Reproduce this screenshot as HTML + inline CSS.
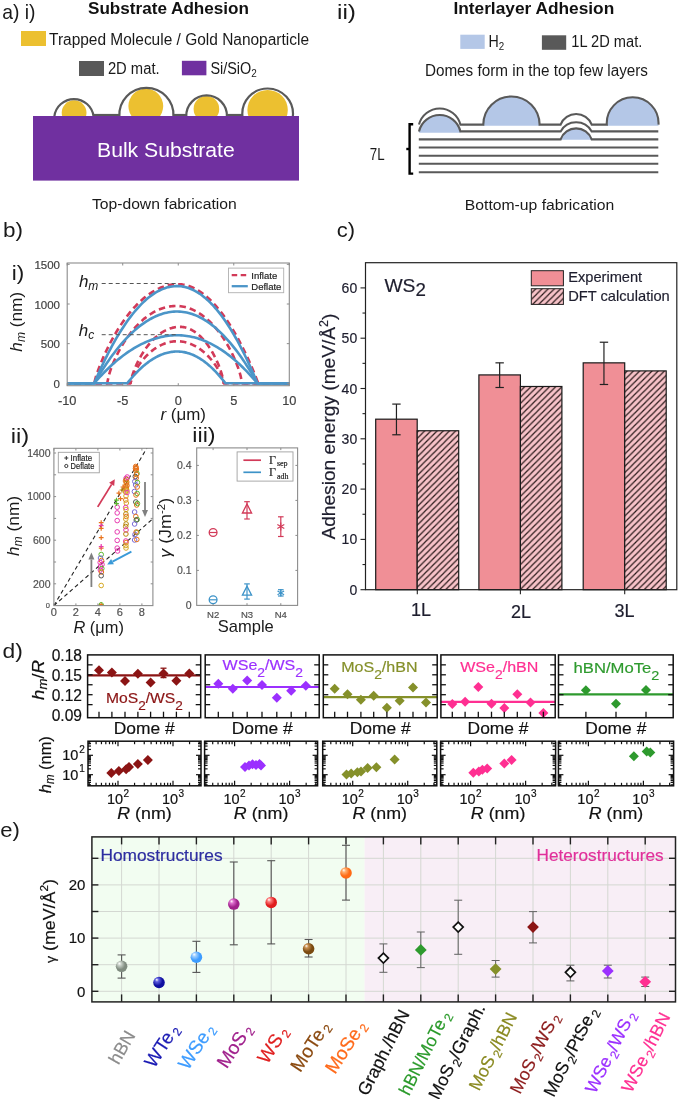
<!DOCTYPE html>
<html><head><meta charset="utf-8"><style>
html,body{margin:0;padding:0;background:#fff;}
svg{display:block;font-family:"Liberation Sans",sans-serif;will-change:transform;}
</style></head><body>
<svg width="685" height="1099" viewBox="0 0 685 1099">
<rect x="0" y="0" width="685" height="1099" fill="#fff"/>
<text x="2.20" y="18.80" font-size="21" fill="#1a1a1a" stroke="#1a1a1a" stroke-width="0" textLength="33.30" lengthAdjust="spacingAndGlyphs">a) i)</text>
<text x="88.00" y="14.20" font-size="16" fill="#111" stroke="#111" stroke-width="0" font-weight="bold" textLength="161.00" lengthAdjust="spacingAndGlyphs">Substrate Adhesion</text>
<rect x="21.00" y="31.00" width="25.00" height="15.00" fill="#ecc030" stroke="none" stroke-width="1" />
<text x="49.00" y="44.50" font-size="16" fill="#1a1a1a" stroke="#1a1a1a" stroke-width="0" textLength="260.00" lengthAdjust="spacingAndGlyphs">Trapped Molecule / Gold Nanoparticle</text>
<rect x="79.00" y="61.00" width="25.00" height="15.00" fill="#595959" stroke="none" stroke-width="1" />
<text x="107.90" y="74.40" font-size="16" fill="#1a1a1a" stroke="#1a1a1a" stroke-width="0" textLength="51.70" lengthAdjust="spacingAndGlyphs">2D mat.</text>
<rect x="181.90" y="60.80" width="24.50" height="14.50" fill="#7030a0" stroke="none" stroke-width="1" />
<text x="210.40" y="74.40" font-size="16" fill="#1a1a1a" stroke="#1a1a1a" stroke-width="0" textLength="46.40" lengthAdjust="spacingAndGlyphs">Si/SiO<tspan font-size="11" dy="3">2</tspan></text>
<circle cx="74.10" cy="112.70" r="12.40" fill="#ecc030" stroke="none" stroke-width="1" />
<circle cx="145.80" cy="106.10" r="17.40" fill="#ecc030" stroke="none" stroke-width="1" />
<circle cx="206.40" cy="108.90" r="12.80" fill="#ecc030" stroke="none" stroke-width="1" />
<circle cx="267.60" cy="110.10" r="20.20" fill="#ecc030" stroke="none" stroke-width="1" />
<path d="M54.35,116.4 A19.75,19.75 0 0 1 93.55,116.4" fill="none" stroke="#595959" stroke-width="2.2" />
<path d="M119.40,116.4 A27.04,27.04 0 1 1 173.40,116.4" fill="none" stroke="#595959" stroke-width="2.2" />
<line x1="93.55" y1="115.00" x2="119.40" y2="115.00" stroke="#595959" stroke-width="2.2" />
<path d="M186.30,116.4 A20.31,20.31 0 1 1 226.90,116.4" fill="none" stroke="#595959" stroke-width="2.2" />
<line x1="173.40" y1="115.00" x2="186.30" y2="115.00" stroke="#595959" stroke-width="2.2" />
<path d="M242.45,116.4 A25.33,25.33 0 1 1 292.85,116.4" fill="none" stroke="#595959" stroke-width="2.2" />
<line x1="226.90" y1="115.00" x2="242.45" y2="115.00" stroke="#595959" stroke-width="2.2" />
<rect x="33.00" y="116.00" width="266.00" height="64.60" fill="#7030a0" stroke="none" stroke-width="1" />
<text x="97.00" y="156.50" font-size="20.5" fill="#fff" stroke="#fff" stroke-width="0" textLength="137.80" lengthAdjust="spacingAndGlyphs">Bulk Substrate</text>
<text x="91.90" y="209.30" font-size="15.4" fill="#1a1a1a" stroke="#1a1a1a" stroke-width="0" textLength="144.80" lengthAdjust="spacingAndGlyphs">Top-down fabrication</text>
<text x="337.00" y="18.90" font-size="21" fill="#1a1a1a" stroke="#1a1a1a" stroke-width="0" textLength="19.00" lengthAdjust="spacingAndGlyphs">ii)</text>
<text x="453.40" y="14.00" font-size="16" fill="#111" stroke="#111" stroke-width="0" font-weight="bold" textLength="160.80" lengthAdjust="spacingAndGlyphs">Interlayer Adhesion</text>
<rect x="460.30" y="34.70" width="24.40" height="14.20" fill="#b4c7e7" stroke="none" stroke-width="1" />
<text x="488.50" y="47.30" font-size="16" fill="#1a1a1a" stroke="#1a1a1a" stroke-width="0" textLength="15.70" lengthAdjust="spacingAndGlyphs">H<tspan font-size="11" dy="3">2</tspan></text>
<rect x="541.90" y="35.30" width="24.30" height="14.50" fill="#595959" stroke="none" stroke-width="1" />
<text x="571.30" y="47.30" font-size="16" fill="#1a1a1a" stroke="#1a1a1a" stroke-width="0" textLength="71.00" lengthAdjust="spacingAndGlyphs">1L 2D mat.</text>
<text x="424.90" y="76.00" font-size="16" fill="#1a1a1a" stroke="#1a1a1a" stroke-width="0" textLength="223.10" lengthAdjust="spacingAndGlyphs">Domes form in the top few layers</text>
<text x="369.80" y="159.60" font-size="16" fill="#1a1a1a" stroke="#1a1a1a" stroke-width="0" textLength="14.80" lengthAdjust="spacingAndGlyphs">7L</text>
<text x="464.80" y="209.60" font-size="15.4" fill="#1a1a1a" stroke="#1a1a1a" stroke-width="0" textLength="149.50" lengthAdjust="spacingAndGlyphs">Bottom-up fabrication</text>
<path d="M419.0,132.8 L419.0,131.4 A21.26,21.26 0 0 1 460.4,131.4 L460.4,132.8 Z" fill="#b4c7e7" stroke="none" stroke-width="1" />
<path d="M483.3,125.8 L483.3,124.6 A28.15,28.15 0 1 1 539.6,124.6 L539.6,125.8 Z" fill="#b4c7e7" stroke="none" stroke-width="1" />
<path d="M560.6,139.8 L560.6,139.4 A16.49,16.49 0 0 1 591.7,139.4 L591.7,139.8 Z" fill="#b4c7e7" stroke="none" stroke-width="1" />
<path d="M606.8,125.8 L606.8,124.6 A25.89,25.89 0 1 1 658.5,124.6 L658.5,125.8 Z" fill="#b4c7e7" stroke="none" stroke-width="1" />
<path d="M419.0,124.6 A21.36,21.36 0 0 1 460.4,124.6 L483.3,124.6 A28.15,28.15 0 1 1 539.6,124.6 L560.6,124.6 A16.71,16.71 0 0 1 591.7,124.6 L606.8,124.6 A25.89,25.89 0 1 1 658.5,124.6 " fill="none" stroke="#595959" stroke-width="2.1" />
<path d="M419.0,131.4 A21.26,21.26 0 0 1 460.4,131.4 L560.6,131.4 A17.74,17.74 0 0 1 591.7,131.4 L658.3,131.4" fill="none" stroke="#595959" stroke-width="2.1" />
<path d="M418.8,139.4 L560.6,139.4 A16.49,16.49 0 0 1 591.7,139.4 L658.3,139.4" fill="none" stroke="#595959" stroke-width="2.1" />
<line x1="418.80" y1="147.50" x2="658.30" y2="147.50" stroke="#595959" stroke-width="2.1" />
<line x1="418.80" y1="155.70" x2="658.30" y2="155.70" stroke="#595959" stroke-width="2.1" />
<line x1="418.80" y1="163.80" x2="658.30" y2="163.80" stroke="#595959" stroke-width="2.1" />
<line x1="418.80" y1="172.20" x2="658.30" y2="172.20" stroke="#595959" stroke-width="2.1" />
<path d="M413.2,124.2 L409.6,124.2 L409.6,173.6 L413.2,173.6" fill="none" stroke="#000" stroke-width="2.4" />
<line x1="406.30" y1="149.00" x2="409.60" y2="149.00" stroke="#000" stroke-width="2.4" />
<text x="3.00" y="236.70" font-size="21" fill="#1a1a1a" stroke="#1a1a1a" stroke-width="0" textLength="20.00" lengthAdjust="spacingAndGlyphs">b)</text>
<text x="11.80" y="280.00" font-size="19.5" fill="#1a1a1a" stroke="#1a1a1a" stroke-width="0" textLength="12.50" lengthAdjust="spacingAndGlyphs">i)</text>
<clipPath id="cb1"><rect x="67.2" y="263.0" width="222.10000000000002" height="122.69999999999999"/></clipPath>
<g clip-path="url(#cb1)">
<path d="M63.87,383.30 L94.19,383.30 L96.01,376.44 L97.83,371.06 L99.65,366.18 L101.47,361.65 L103.30,357.38 L105.12,353.34 L106.94,349.48 L108.76,345.80 L110.59,342.27 L112.41,338.89 L114.23,335.64 L116.05,332.53 L117.88,329.53 L119.70,326.66 L121.52,323.89 L123.34,321.24 L125.17,318.69 L126.99,316.25 L128.81,313.91 L130.63,311.66 L132.46,309.52 L134.28,307.47 L136.10,305.51 L137.92,303.64 L139.75,301.87 L141.57,300.18 L143.39,298.58 L145.21,297.08 L147.04,295.65 L148.86,294.32 L150.68,293.06 L152.50,291.90 L154.33,290.81 L156.15,289.81 L157.97,288.90 L159.79,288.06 L161.62,287.31 L163.44,286.64 L165.26,286.05 L167.08,285.54 L168.91,285.11 L170.73,284.76 L172.55,284.49 L174.37,284.31 L176.20,284.20 L178.02,284.18 L179.84,284.24 L181.66,284.41 L183.49,284.67 L185.31,285.03 L187.13,285.50 L188.95,286.06 L190.78,286.71 L192.60,287.47 L194.42,288.33 L196.24,289.28 L198.07,290.34 L199.89,291.49 L201.71,292.74 L203.53,294.09 L205.35,295.54 L207.18,297.10 L209.00,298.75 L210.82,300.50 L212.64,302.35 L214.47,304.30 L216.29,306.35 L218.11,308.51 L219.93,310.76 L221.76,313.12 L223.58,315.58 L225.40,318.14 L227.22,320.80 L229.05,323.57 L230.87,326.44 L232.69,329.42 L234.51,332.51 L236.34,335.70 L238.16,338.99 L239.98,342.40 L241.80,345.92 L243.63,349.54 L245.45,353.29 L247.27,357.15 L249.09,361.13 L250.92,365.24 L252.74,369.48 L254.56,373.87 L256.38,378.43 L258.21,383.30 L290.41,383.30" fill="none" stroke="#d23a58" stroke-width="2.6" stroke-dasharray="6.5,4" stroke-linejoin="round"/>
<path d="M63.87,383.30 L107.18,383.30 L108.68,375.99 L110.18,371.11 L111.68,366.91 L113.17,363.14 L114.67,359.67 L116.17,356.44 L117.67,353.41 L119.17,350.56 L120.67,347.85 L122.17,345.28 L123.67,342.84 L125.17,340.52 L126.67,338.30 L128.17,336.18 L129.67,334.15 L131.16,332.22 L132.66,330.37 L134.16,328.61 L135.66,326.92 L137.16,325.32 L138.66,323.79 L140.16,322.33 L141.66,320.94 L143.16,319.62 L144.66,318.36 L146.16,317.18 L147.66,316.06 L149.15,315.00 L150.65,314.00 L152.15,313.07 L153.65,312.19 L155.15,311.38 L156.65,310.62 L158.15,309.93 L159.65,309.29 L161.15,308.71 L162.65,308.18 L164.15,307.72 L165.65,307.31 L167.15,306.95 L168.64,306.65 L170.14,306.41 L171.64,306.22 L173.14,306.08 L174.64,306.01 L176.14,305.98 L177.64,306.02 L179.14,306.11 L180.64,306.26 L182.14,306.48 L183.64,306.75 L185.14,307.09 L186.63,307.48 L188.13,307.94 L189.63,308.45 L191.13,309.03 L192.63,309.67 L194.13,310.38 L195.63,311.14 L197.13,311.97 L198.63,312.87 L200.13,313.83 L201.63,314.86 L203.13,315.96 L204.62,317.12 L206.12,318.35 L207.62,319.66 L209.12,321.04 L210.62,322.49 L212.12,324.03 L213.62,325.64 L215.12,327.33 L216.62,329.10 L218.12,330.97 L219.62,332.92 L221.12,334.97 L222.61,337.13 L224.11,339.38 L225.61,341.75 L227.11,344.24 L228.61,346.87 L230.11,349.63 L231.61,352.55 L233.11,355.66 L234.61,358.97 L236.11,362.54 L237.61,366.42 L239.11,370.73 L240.60,375.76 L242.10,383.30 L290.41,383.30" fill="none" stroke="#d23a58" stroke-width="2.6" stroke-dasharray="6.5,4" stroke-linejoin="round"/>
<path d="M63.87,383.30 L130.50,383.30 L131.53,378.09 L132.57,374.61 L133.61,371.61 L134.64,368.92 L135.68,366.44 L136.72,364.13 L137.75,361.96 L138.79,359.92 L139.83,357.98 L140.86,356.14 L141.90,354.38 L142.94,352.71 L143.97,351.11 L145.01,349.58 L146.05,348.12 L147.08,346.72 L148.12,345.38 L149.15,344.11 L150.19,342.88 L151.23,341.71 L152.26,340.60 L153.30,339.53 L154.34,338.51 L155.37,337.54 L156.41,336.62 L157.45,335.74 L158.48,334.91 L159.52,334.12 L160.56,333.38 L161.59,332.67 L162.63,332.01 L163.67,331.40 L164.70,330.82 L165.74,330.28 L166.77,329.78 L167.81,329.33 L168.85,328.91 L169.88,328.53 L170.92,328.19 L171.96,327.89 L172.99,327.63 L174.03,327.40 L175.07,327.21 L176.10,327.06 L177.14,326.95 L178.18,326.88 L179.21,326.84 L180.25,326.85 L181.29,326.89 L182.32,326.99 L183.36,327.13 L184.39,327.32 L185.43,327.56 L186.47,327.84 L187.50,328.17 L188.54,328.55 L189.58,328.98 L190.61,329.46 L191.65,329.98 L192.69,330.56 L193.72,331.18 L194.76,331.86 L195.80,332.59 L196.83,333.37 L197.87,334.20 L198.91,335.09 L199.94,336.03 L200.98,337.03 L202.01,338.08 L203.05,339.20 L204.09,340.38 L205.12,341.61 L206.16,342.92 L207.20,344.29 L208.23,345.73 L209.27,347.24 L210.31,348.83 L211.34,350.50 L212.38,352.26 L213.42,354.11 L214.45,356.06 L215.49,358.12 L216.53,360.30 L217.56,362.61 L218.60,365.08 L219.63,367.75 L220.67,370.65 L221.71,373.88 L222.74,377.65 L223.78,383.30 L290.41,383.30" fill="none" stroke="#d23a58" stroke-width="2.6" stroke-dasharray="6.5,4" stroke-linejoin="round"/>
<path d="M63.87,383.30 L130.50,383.30 L131.53,379.27 L132.57,376.57 L133.61,374.26 L134.64,372.18 L135.68,370.27 L136.72,368.49 L137.75,366.82 L138.79,365.25 L139.83,363.77 L140.86,362.36 L141.90,361.02 L142.94,359.74 L143.97,358.52 L145.01,357.36 L146.05,356.25 L147.08,355.20 L148.12,354.19 L149.15,353.23 L150.19,352.31 L151.23,351.43 L152.26,350.60 L153.30,349.81 L154.34,349.06 L155.37,348.34 L156.41,347.67 L157.45,347.03 L158.48,346.42 L159.52,345.86 L160.56,345.32 L161.59,344.82 L162.63,344.36 L163.67,343.93 L164.70,343.53 L165.74,343.17 L166.77,342.84 L167.81,342.54 L168.85,342.27 L169.88,342.04 L170.92,341.83 L171.96,341.66 L172.99,341.52 L174.03,341.41 L175.07,341.33 L176.10,341.29 L177.14,341.27 L178.18,341.29 L179.21,341.33 L180.25,341.41 L181.29,341.52 L182.32,341.66 L183.36,341.83 L184.39,342.04 L185.43,342.27 L186.47,342.54 L187.50,342.84 L188.54,343.17 L189.58,343.53 L190.61,343.93 L191.65,344.36 L192.69,344.82 L193.72,345.32 L194.76,345.86 L195.80,346.42 L196.83,347.03 L197.87,347.67 L198.91,348.34 L199.94,349.06 L200.98,349.81 L202.01,350.60 L203.05,351.43 L204.09,352.31 L205.12,353.23 L206.16,354.19 L207.20,355.20 L208.23,356.25 L209.27,357.36 L210.31,358.52 L211.34,359.74 L212.38,361.02 L213.42,362.36 L214.45,363.77 L215.49,365.25 L216.53,366.82 L217.56,368.49 L218.60,370.27 L219.63,372.18 L220.67,374.26 L221.71,376.57 L222.74,379.27 L223.78,383.30 L290.41,383.30" fill="none" stroke="#d23a58" stroke-width="2.6" stroke-dasharray="6.5,4" stroke-linejoin="round"/>
<path d="M63.87,383.30 L94.19,383.30 L96.00,379.09 L97.81,374.98 L99.63,370.96 L101.44,367.04 L103.25,363.20 L105.07,359.46 L106.88,355.82 L108.70,352.26 L110.51,348.80 L112.32,345.43 L114.14,342.16 L115.95,338.97 L117.76,335.89 L119.58,332.89 L121.39,329.98 L123.21,327.17 L125.02,324.46 L126.83,321.83 L128.65,319.30 L130.46,316.86 L132.28,314.52 L134.09,312.26 L135.90,310.10 L137.72,308.04 L139.53,306.06 L141.34,304.18 L143.16,302.39 L144.97,300.70 L146.79,299.10 L148.60,297.59 L150.41,296.17 L152.23,294.85 L154.04,293.62 L155.85,292.48 L157.67,291.43 L159.48,290.48 L161.30,289.62 L163.11,288.86 L164.92,288.19 L166.74,287.61 L168.55,287.12 L170.37,286.73 L172.18,286.43 L173.99,286.22 L175.81,286.10 L177.62,286.08 L179.43,286.16 L181.25,286.33 L183.06,286.61 L184.88,286.98 L186.69,287.45 L188.50,288.03 L190.32,288.70 L192.13,289.47 L193.95,290.34 L195.76,291.31 L197.57,292.38 L199.39,293.54 L201.20,294.81 L203.01,296.18 L204.83,297.64 L206.64,299.21 L208.46,300.87 L210.27,302.63 L212.08,304.49 L213.90,306.46 L215.71,308.52 L217.52,310.68 L219.34,312.93 L221.15,315.29 L222.97,317.75 L224.78,320.31 L226.59,322.96 L228.41,325.72 L230.22,328.57 L232.04,331.53 L233.85,334.58 L235.66,337.73 L237.48,340.98 L239.29,344.33 L241.10,347.78 L242.92,351.33 L244.73,354.98 L246.55,358.73 L248.36,362.58 L250.17,366.52 L251.99,370.57 L253.80,374.71 L255.61,378.96 L257.43,383.30 L290.41,383.30" fill="none" stroke="#4b95c8" stroke-width="2.6" stroke-linejoin="round"/>
<path d="M63.87,383.30 L94.19,383.30 L96.00,380.20 L97.81,377.16 L99.63,374.19 L101.44,371.30 L103.25,368.47 L105.07,365.70 L106.88,363.01 L108.70,360.39 L110.51,357.83 L112.32,355.35 L114.14,352.93 L115.95,350.58 L117.76,348.30 L119.58,346.09 L121.39,343.94 L123.21,341.87 L125.02,339.86 L126.83,337.93 L128.65,336.06 L130.46,334.26 L132.28,332.52 L134.09,330.86 L135.90,329.27 L137.72,327.74 L139.53,326.28 L141.34,324.90 L143.16,323.58 L144.97,322.32 L146.79,321.14 L148.60,320.03 L150.41,318.98 L152.23,318.01 L154.04,317.10 L155.85,316.26 L157.67,315.49 L159.48,314.78 L161.30,314.15 L163.11,313.59 L164.92,313.09 L166.74,312.66 L168.55,312.30 L170.37,312.01 L172.18,311.79 L173.99,311.64 L175.81,311.55 L177.62,311.54 L179.43,311.59 L181.25,311.72 L183.06,311.92 L184.88,312.20 L186.69,312.55 L188.50,312.97 L190.32,313.47 L192.13,314.04 L193.95,314.68 L195.76,315.39 L197.57,316.18 L199.39,317.04 L201.20,317.98 L203.01,318.99 L204.83,320.07 L206.64,321.22 L208.46,322.45 L210.27,323.75 L212.08,325.13 L213.90,326.58 L215.71,328.10 L217.52,329.69 L219.34,331.36 L221.15,333.10 L222.97,334.91 L224.78,336.80 L226.59,338.76 L228.41,340.80 L230.22,342.90 L232.04,345.08 L233.85,347.34 L235.66,349.66 L237.48,352.06 L239.29,354.54 L241.10,357.08 L242.92,359.70 L244.73,362.40 L246.55,365.16 L248.36,368.00 L250.17,370.92 L251.99,373.90 L253.80,376.96 L255.61,380.09 L257.43,383.30 L290.41,383.30" fill="none" stroke="#4b95c8" stroke-width="2.6" stroke-linejoin="round"/>
<path d="M63.87,383.30 L94.19,383.30 L96.00,381.22 L97.81,379.19 L99.63,377.20 L101.44,375.26 L103.25,373.37 L105.07,371.52 L106.88,369.72 L108.70,367.96 L110.51,366.25 L112.32,364.58 L114.14,362.96 L115.95,361.39 L117.76,359.86 L119.58,358.38 L121.39,356.95 L123.21,355.56 L125.02,354.21 L126.83,352.92 L128.65,351.67 L130.46,350.46 L132.28,349.30 L134.09,348.19 L135.90,347.12 L137.72,346.10 L139.53,345.12 L141.34,344.19 L143.16,343.31 L144.97,342.47 L146.79,341.68 L148.60,340.93 L150.41,340.23 L152.23,339.58 L154.04,338.97 L155.85,338.41 L157.67,337.89 L159.48,337.42 L161.30,337.00 L163.11,336.62 L164.92,336.29 L166.74,336.00 L168.55,335.76 L170.37,335.56 L172.18,335.42 L173.99,335.31 L175.81,335.26 L177.62,335.25 L179.43,335.28 L181.25,335.37 L183.06,335.51 L184.88,335.69 L186.69,335.92 L188.50,336.21 L190.32,336.54 L192.13,336.92 L193.95,337.35 L195.76,337.83 L197.57,338.36 L199.39,338.93 L201.20,339.56 L203.01,340.24 L204.83,340.96 L206.64,341.73 L208.46,342.56 L210.27,343.43 L212.08,344.35 L213.90,345.32 L215.71,346.33 L217.52,347.40 L219.34,348.52 L221.15,349.68 L222.97,350.90 L224.78,352.16 L226.59,353.48 L228.41,354.84 L230.22,356.25 L232.04,357.71 L233.85,359.22 L235.66,360.78 L237.48,362.38 L239.29,364.04 L241.10,365.75 L242.92,367.50 L244.73,369.30 L246.55,371.16 L248.36,373.06 L250.17,375.01 L251.99,377.01 L253.80,379.06 L255.61,381.15 L257.43,383.30 L290.41,383.30" fill="none" stroke="#4b95c8" stroke-width="2.6" stroke-linejoin="round"/>
<path d="M63.87,383.30 L127.28,383.30 L128.37,381.92 L129.46,380.58 L130.55,379.26 L131.64,377.98 L132.73,376.72 L133.82,375.50 L134.91,374.31 L136.00,373.14 L137.09,372.01 L138.19,370.91 L139.28,369.84 L140.37,368.80 L141.46,367.79 L142.55,366.80 L143.64,365.85 L144.73,364.94 L145.82,364.05 L146.91,363.19 L148.00,362.36 L149.09,361.56 L150.18,360.79 L151.27,360.06 L152.37,359.35 L153.46,358.67 L154.55,358.03 L155.64,357.41 L156.73,356.83 L157.82,356.28 L158.91,355.75 L160.00,355.26 L161.09,354.79 L162.18,354.36 L163.27,353.96 L164.36,353.59 L165.45,353.25 L166.55,352.94 L167.64,352.66 L168.73,352.41 L169.82,352.19 L170.91,352.00 L172.00,351.84 L173.09,351.71 L174.18,351.61 L175.27,351.55 L176.36,351.51 L177.45,351.50 L178.54,351.53 L179.63,351.59 L180.73,351.68 L181.82,351.80 L182.91,351.95 L184.00,352.14 L185.09,352.36 L186.18,352.61 L187.27,352.90 L188.36,353.22 L189.45,353.57 L190.54,353.95 L191.63,354.36 L192.72,354.81 L193.81,355.29 L194.91,355.80 L196.00,356.35 L197.09,356.92 L198.18,357.53 L199.27,358.17 L200.36,358.85 L201.45,359.55 L202.54,360.29 L203.63,361.06 L204.72,361.87 L205.81,362.70 L206.90,363.57 L207.99,364.47 L209.08,365.41 L210.18,366.37 L211.27,367.37 L212.36,368.40 L213.45,369.47 L214.54,370.56 L215.63,371.69 L216.72,372.85 L217.81,374.04 L218.90,375.27 L219.99,376.53 L221.08,377.82 L222.17,379.14 L223.26,380.49 L224.36,381.88 L225.45,383.30 L290.41,383.30" fill="none" stroke="#4b95c8" stroke-width="2.6" stroke-linejoin="round"/>
</g>
<line x1="101.70" y1="283.50" x2="178.00" y2="283.50" stroke="#555" stroke-width="1" stroke-dasharray="4,3"/>
<line x1="101.70" y1="334.70" x2="178.00" y2="334.70" stroke="#555" stroke-width="1" stroke-dasharray="4,3"/>
<text x="78.90" y="287.30" font-size="17" fill="#1a1a1a" stroke="#1a1a1a" stroke-width="0" font-style="italic">h<tspan font-size="12" dy="3">m</tspan></text>
<text x="78.80" y="336.10" font-size="17" fill="#1a1a1a" stroke="#1a1a1a" stroke-width="0" font-style="italic">h<tspan font-size="12" dy="3">c</tspan></text>
<rect x="67.20" y="263.00" width="222.10" height="122.70" fill="none" stroke="#8c8c8c" stroke-width="1.1" />
<line x1="67.20" y1="383.30" x2="69.70" y2="383.30" stroke="#8c8c8c" stroke-width="1" />
<line x1="289.30" y1="383.30" x2="286.80" y2="383.30" stroke="#8c8c8c" stroke-width="1" />
<text x="60.00" y="388.10" font-size="11.5" fill="#404040" stroke="#404040" stroke-width="0.18" text-anchor="end">0</text>
<line x1="67.20" y1="343.65" x2="69.70" y2="343.65" stroke="#8c8c8c" stroke-width="1" />
<line x1="289.30" y1="343.65" x2="286.80" y2="343.65" stroke="#8c8c8c" stroke-width="1" />
<text x="60.00" y="348.45" font-size="11.5" fill="#404040" stroke="#404040" stroke-width="0.18" text-anchor="end">500</text>
<line x1="67.20" y1="304.00" x2="69.70" y2="304.00" stroke="#8c8c8c" stroke-width="1" />
<line x1="289.30" y1="304.00" x2="286.80" y2="304.00" stroke="#8c8c8c" stroke-width="1" />
<text x="60.00" y="308.80" font-size="11.5" fill="#404040" stroke="#404040" stroke-width="0.18" text-anchor="end">1000</text>
<line x1="67.20" y1="264.35" x2="69.70" y2="264.35" stroke="#8c8c8c" stroke-width="1" />
<line x1="289.30" y1="264.35" x2="286.80" y2="264.35" stroke="#8c8c8c" stroke-width="1" />
<text x="60.00" y="269.15" font-size="11.5" fill="#404040" stroke="#404040" stroke-width="0.18" text-anchor="end">1500</text>
<line x1="67.20" y1="385.70" x2="67.20" y2="383.20" stroke="#8c8c8c" stroke-width="1" />
<line x1="67.20" y1="263.00" x2="67.20" y2="265.50" stroke="#8c8c8c" stroke-width="1" />
<text x="67.20" y="405.00" font-size="12.8" fill="#404040" stroke="#404040" stroke-width="0.18" text-anchor="middle">-10</text>
<line x1="122.72" y1="385.70" x2="122.72" y2="383.20" stroke="#8c8c8c" stroke-width="1" />
<line x1="122.72" y1="263.00" x2="122.72" y2="265.50" stroke="#8c8c8c" stroke-width="1" />
<text x="122.72" y="405.00" font-size="12.8" fill="#404040" stroke="#404040" stroke-width="0.18" text-anchor="middle">-5</text>
<line x1="178.25" y1="385.70" x2="178.25" y2="383.20" stroke="#8c8c8c" stroke-width="1" />
<line x1="178.25" y1="263.00" x2="178.25" y2="265.50" stroke="#8c8c8c" stroke-width="1" />
<text x="178.25" y="405.00" font-size="12.8" fill="#404040" stroke="#404040" stroke-width="0.18" text-anchor="middle">0</text>
<line x1="233.78" y1="385.70" x2="233.78" y2="383.20" stroke="#8c8c8c" stroke-width="1" />
<line x1="233.78" y1="263.00" x2="233.78" y2="265.50" stroke="#8c8c8c" stroke-width="1" />
<text x="233.78" y="405.00" font-size="12.8" fill="#404040" stroke="#404040" stroke-width="0.18" text-anchor="middle">5</text>
<line x1="289.30" y1="385.70" x2="289.30" y2="383.20" stroke="#8c8c8c" stroke-width="1" />
<line x1="289.30" y1="263.00" x2="289.30" y2="265.50" stroke="#8c8c8c" stroke-width="1" />
<text x="289.30" y="405.00" font-size="12.8" fill="#404040" stroke="#404040" stroke-width="0.18" text-anchor="middle">10</text>
<rect x="228.50" y="268.10" width="55.20" height="24.60" fill="#fff" stroke="#b0b0b0" stroke-width="0.9" />
<line x1="231.70" y1="275.10" x2="247.80" y2="275.10" stroke="#d23a58" stroke-width="2.3" stroke-dasharray="5.5,3.5"/>
<line x1="231.70" y1="286.20" x2="247.80" y2="286.20" stroke="#4b95c8" stroke-width="2.3" />
<text x="251.30" y="278.60" font-size="9.5" fill="#222" stroke="#222" stroke-width="0.18">Inflate</text>
<text x="251.30" y="289.60" font-size="9.5" fill="#222" stroke="#222" stroke-width="0.18">Deflate</text>
<text transform="translate(22.10,321.80) rotate(-90)" x="0" y="0" font-size="17" fill="#1a1a1a" stroke="#1a1a1a" stroke-width="0" text-anchor="middle" textLength="59.70" lengthAdjust="spacingAndGlyphs"><tspan font-style="italic">h</tspan><tspan font-size="12" dy="3" font-style="italic">m</tspan><tspan dy="-3"> (nm)</tspan></text>
<text x="160.50" y="420.40" font-size="16.5" fill="#1a1a1a" stroke="#1a1a1a" stroke-width="0" textLength="45.50" lengthAdjust="spacingAndGlyphs"><tspan font-style="italic">r</tspan> (&#956;m)</text>
<text x="10.80" y="442.60" font-size="20" fill="#1a1a1a" stroke="#1a1a1a" stroke-width="0" textLength="18.50" lengthAdjust="spacingAndGlyphs">ii)</text>
<clipPath id="cb2"><rect x="53.9" y="448.3" width="99.0" height="157.3"/></clipPath>
<g clip-path="url(#cb2)">
<line x1="53.90" y1="605.60" x2="158.40" y2="428.53" stroke="#222" stroke-width="1.1" stroke-dasharray="4,3"/>
<line x1="53.90" y1="605.60" x2="158.40" y2="513.85" stroke="#222" stroke-width="1.1" stroke-dasharray="4,3"/>
<circle cx="101.20" cy="554.50" r="2.30" fill="none" stroke="#5cb82e" stroke-width="1.0" />
<circle cx="100.50" cy="558.00" r="2.30" fill="none" stroke="#7a6cd8" stroke-width="1.0" />
<circle cx="101.50" cy="560.50" r="2.30" fill="none" stroke="#e8731c" stroke-width="1.0" />
<circle cx="100.20" cy="562.50" r="2.30" fill="none" stroke="#e83ab0" stroke-width="1.0" />
<circle cx="102.00" cy="564.50" r="2.30" fill="none" stroke="#e83ab0" stroke-width="1.0" />
<circle cx="100.60" cy="566.50" r="2.30" fill="none" stroke="#e83ab0" stroke-width="1.0" />
<circle cx="101.80" cy="568.50" r="2.30" fill="none" stroke="#5cb82e" stroke-width="1.0" />
<circle cx="100.40" cy="570.00" r="2.30" fill="none" stroke="#e83ab0" stroke-width="1.0" />
<circle cx="101.40" cy="572.00" r="2.30" fill="none" stroke="#e8731c" stroke-width="1.0" />
<circle cx="101.20" cy="575.70" r="2.30" fill="none" stroke="#555555" stroke-width="1.0" />
<circle cx="101.20" cy="585.50" r="2.30" fill="none" stroke="#d6a820" stroke-width="1.0" />
<circle cx="117.20" cy="507.20" r="2.30" fill="none" stroke="#e83ab0" stroke-width="1.0" />
<circle cx="117.20" cy="512.90" r="2.30" fill="none" stroke="#e83ab0" stroke-width="1.0" />
<circle cx="117.20" cy="520.60" r="2.30" fill="none" stroke="#e83ab0" stroke-width="1.0" />
<circle cx="117.20" cy="531.90" r="2.30" fill="none" stroke="#e83ab0" stroke-width="1.0" />
<circle cx="117.20" cy="540.40" r="2.30" fill="none" stroke="#e83ab0" stroke-width="1.0" />
<circle cx="117.20" cy="548.10" r="2.30" fill="none" stroke="#e83ab0" stroke-width="1.0" />
<circle cx="117.60" cy="551.00" r="2.30" fill="none" stroke="#e83ab0" stroke-width="1.0" />
<circle cx="126.00" cy="478.50" r="2.30" fill="none" stroke="#e83ab0" stroke-width="1.0" />
<circle cx="125.50" cy="481.00" r="2.30" fill="none" stroke="#e8731c" stroke-width="1.0" />
<circle cx="126.40" cy="483.50" r="2.30" fill="none" stroke="#d6a820" stroke-width="1.0" />
<circle cx="125.80" cy="486.00" r="2.30" fill="none" stroke="#e8731c" stroke-width="1.0" />
<circle cx="126.20" cy="489.00" r="2.30" fill="none" stroke="#b8860b" stroke-width="1.0" />
<circle cx="125.60" cy="492.00" r="2.30" fill="none" stroke="#d6a820" stroke-width="1.0" />
<circle cx="126.00" cy="496.00" r="2.30" fill="none" stroke="#d6a820" stroke-width="1.0" />
<circle cx="125.80" cy="500.00" r="2.30" fill="none" stroke="#e8731c" stroke-width="1.0" />
<circle cx="126.30" cy="503.00" r="2.30" fill="none" stroke="#d6a820" stroke-width="1.0" />
<circle cx="125.70" cy="507.50" r="2.30" fill="none" stroke="#e83ab0" stroke-width="1.0" />
<circle cx="126.00" cy="509.50" r="2.30" fill="none" stroke="#d6a820" stroke-width="1.0" />
<circle cx="125.90" cy="514.00" r="2.30" fill="none" stroke="#b8860b" stroke-width="1.0" />
<circle cx="126.20" cy="516.50" r="2.30" fill="none" stroke="#e8731c" stroke-width="1.0" />
<circle cx="125.80" cy="519.00" r="2.30" fill="none" stroke="#d6a820" stroke-width="1.0" />
<circle cx="126.10" cy="524.00" r="2.30" fill="none" stroke="#b8860b" stroke-width="1.0" />
<circle cx="125.70" cy="526.50" r="2.30" fill="none" stroke="#b8860b" stroke-width="1.0" />
<circle cx="126.00" cy="530.00" r="2.30" fill="none" stroke="#e83ab0" stroke-width="1.0" />
<circle cx="125.90" cy="534.00" r="2.30" fill="none" stroke="#b8860b" stroke-width="1.0" />
<circle cx="125.80" cy="541.00" r="2.30" fill="none" stroke="#e83ab0" stroke-width="1.0" />
<circle cx="126.10" cy="542.50" r="2.30" fill="none" stroke="#e8731c" stroke-width="1.0" />
<circle cx="125.90" cy="545.50" r="2.30" fill="none" stroke="#d6a820" stroke-width="1.0" />
<circle cx="126.00" cy="548.00" r="2.30" fill="none" stroke="#d6a820" stroke-width="1.0" />
<circle cx="135.50" cy="468.40" r="2.30" fill="none" stroke="#e8731c" stroke-width="1.0" />
<circle cx="136.00" cy="470.50" r="2.30" fill="none" stroke="#e8731c" stroke-width="1.0" />
<circle cx="137.00" cy="473.50" r="2.30" fill="none" stroke="#5cb82e" stroke-width="1.0" />
<circle cx="135.30" cy="476.50" r="2.30" fill="none" stroke="#555555" stroke-width="1.0" />
<circle cx="136.20" cy="478.00" r="2.30" fill="none" stroke="#e8731c" stroke-width="1.0" />
<circle cx="134.80" cy="481.50" r="2.30" fill="none" stroke="#7a6cd8" stroke-width="1.0" />
<circle cx="137.40" cy="482.50" r="2.30" fill="none" stroke="#5cb82e" stroke-width="1.0" />
<circle cx="135.60" cy="485.00" r="2.30" fill="none" stroke="#7a6cd8" stroke-width="1.0" />
<circle cx="134.40" cy="491.50" r="2.30" fill="none" stroke="#7a6cd8" stroke-width="1.0" />
<circle cx="137.20" cy="493.50" r="2.30" fill="none" stroke="#5cb82e" stroke-width="1.0" />
<circle cx="136.00" cy="495.00" r="2.30" fill="none" stroke="#e8731c" stroke-width="1.0" />
<circle cx="135.80" cy="502.00" r="2.30" fill="none" stroke="#555555" stroke-width="1.0" />
<circle cx="136.70" cy="505.00" r="2.30" fill="none" stroke="#e8731c" stroke-width="1.0" />
<circle cx="137.40" cy="503.50" r="2.30" fill="none" stroke="#5cb82e" stroke-width="1.0" />
<circle cx="134.60" cy="512.00" r="2.30" fill="none" stroke="#7a6cd8" stroke-width="1.0" />
<circle cx="135.80" cy="516.50" r="2.30" fill="none" stroke="#e8731c" stroke-width="1.0" />
<circle cx="137.20" cy="519.50" r="2.30" fill="none" stroke="#5cb82e" stroke-width="1.0" />
<circle cx="136.30" cy="520.00" r="2.30" fill="none" stroke="#555555" stroke-width="1.0" />
<circle cx="134.60" cy="524.00" r="2.30" fill="none" stroke="#7a6cd8" stroke-width="1.0" />
<circle cx="137.00" cy="532.50" r="2.30" fill="none" stroke="#5cb82e" stroke-width="1.0" />
<circle cx="135.00" cy="534.50" r="2.30" fill="none" stroke="#7a6cd8" stroke-width="1.0" />
<circle cx="136.20" cy="532.00" r="2.30" fill="none" stroke="#e8731c" stroke-width="1.0" />
<circle cx="134.60" cy="540.00" r="2.30" fill="none" stroke="#7a6cd8" stroke-width="1.0" />
<circle cx="136.80" cy="539.50" r="2.30" fill="none" stroke="#e8731c" stroke-width="1.0" />
<circle cx="136.00" cy="467.50" r="2.30" fill="none" stroke="#e8731c" stroke-width="1.0" />
<circle cx="136.30" cy="469.00" r="2.30" fill="none" stroke="#e8731c" stroke-width="1.0" />
<circle cx="135.70" cy="466.50" r="2.30" fill="none" stroke="#e8731c" stroke-width="1.0" />
<circle cx="126.50" cy="479.50" r="2.30" fill="none" stroke="#b8860b" stroke-width="1.0" />
<circle cx="126.80" cy="482.00" r="2.30" fill="none" stroke="#e8731c" stroke-width="1.0" />
<circle cx="127.00" cy="485.50" r="2.30" fill="none" stroke="#e8731c" stroke-width="1.0" />
<circle cx="126.40" cy="488.00" r="2.30" fill="none" stroke="#e8731c" stroke-width="1.0" />
<circle cx="126.90" cy="490.50" r="2.30" fill="none" stroke="#d6a820" stroke-width="1.0" />
<circle cx="127.20" cy="477.00" r="2.30" fill="none" stroke="#e83ab0" stroke-width="1.0" />
<circle cx="127.00" cy="492.50" r="2.30" fill="none" stroke="#e83ab0" stroke-width="1.0" />
<circle cx="136.50" cy="474.50" r="2.30" fill="none" stroke="#e8731c" stroke-width="1.0" />
<circle cx="137.20" cy="487.00" r="2.30" fill="none" stroke="#e8731c" stroke-width="1.0" />
<line x1="98.80" y1="522.70" x2="103.60" y2="522.70" stroke="#e8731c" stroke-width="1.2" />
<line x1="101.20" y1="520.30" x2="101.20" y2="525.10" stroke="#e8731c" stroke-width="1.2" />
<line x1="98.80" y1="525.60" x2="103.60" y2="525.60" stroke="#e83ab0" stroke-width="1.2" />
<line x1="101.20" y1="523.20" x2="101.20" y2="528.00" stroke="#e83ab0" stroke-width="1.2" />
<line x1="98.80" y1="528.40" x2="103.60" y2="528.40" stroke="#e8731c" stroke-width="1.2" />
<line x1="101.20" y1="526.00" x2="101.20" y2="530.80" stroke="#e8731c" stroke-width="1.2" />
<line x1="98.80" y1="537.60" x2="103.60" y2="537.60" stroke="#e8731c" stroke-width="1.2" />
<line x1="101.20" y1="535.20" x2="101.20" y2="540.00" stroke="#e8731c" stroke-width="1.2" />
<line x1="98.80" y1="548.10" x2="103.60" y2="548.10" stroke="#e8731c" stroke-width="1.2" />
<line x1="101.20" y1="545.70" x2="101.20" y2="550.50" stroke="#e8731c" stroke-width="1.2" />
<line x1="98.80" y1="546.50" x2="103.60" y2="546.50" stroke="#e83ab0" stroke-width="1.2" />
<line x1="101.20" y1="544.10" x2="101.20" y2="548.90" stroke="#e83ab0" stroke-width="1.2" />
<line x1="116.50" y1="493.10" x2="121.30" y2="493.10" stroke="#e8731c" stroke-width="1.2" />
<line x1="118.90" y1="490.70" x2="118.90" y2="495.50" stroke="#e8731c" stroke-width="1.2" />
<line x1="118.10" y1="498.70" x2="122.90" y2="498.70" stroke="#e8731c" stroke-width="1.2" />
<line x1="120.50" y1="496.30" x2="120.50" y2="501.10" stroke="#e8731c" stroke-width="1.2" />
<line x1="114.10" y1="500.20" x2="118.90" y2="500.20" stroke="#5cb82e" stroke-width="1.2" />
<line x1="116.50" y1="497.80" x2="116.50" y2="502.60" stroke="#5cb82e" stroke-width="1.2" />
<line x1="114.10" y1="503.70" x2="118.90" y2="503.70" stroke="#5cb82e" stroke-width="1.2" />
<line x1="116.50" y1="501.30" x2="116.50" y2="506.10" stroke="#5cb82e" stroke-width="1.2" />
<line x1="120.60" y1="487.00" x2="125.40" y2="487.00" stroke="#e8731c" stroke-width="1.2" />
<line x1="123.00" y1="484.60" x2="123.00" y2="489.40" stroke="#e8731c" stroke-width="1.2" />
<line x1="119.60" y1="490.00" x2="124.40" y2="490.00" stroke="#b8860b" stroke-width="1.2" />
<line x1="122.00" y1="487.60" x2="122.00" y2="492.40" stroke="#b8860b" stroke-width="1.2" />
<line x1="98.80" y1="604.60" x2="103.60" y2="604.60" stroke="#e8731c" stroke-width="1.2" />
<line x1="101.20" y1="602.20" x2="101.20" y2="607.00" stroke="#e8731c" stroke-width="1.2" />
<circle cx="101.20" cy="604.60" r="2.10" fill="none" stroke="#5cb82e" stroke-width="1.0" />
</g>
<line x1="97.70" y1="506.90" x2="111.64" y2="484.40" stroke="#d23a58" stroke-width="1.8" />
<path d="M114.80,479.30 L114.19,485.98 L109.09,482.82 Z" fill="#d23a58" stroke="none" stroke-width="1" />
<line x1="145.00" y1="482.00" x2="145.00" y2="510.00" stroke="#808080" stroke-width="1.8" />
<path d="M145.00,517.00 L142.00,510.00 L148.00,510.00 Z" fill="#808080" stroke="none" stroke-width="1" />
<line x1="91.40" y1="587.00" x2="91.40" y2="559.50" stroke="#808080" stroke-width="1.8" />
<path d="M91.40,552.50 L94.40,559.50 L88.40,559.50 Z" fill="#808080" stroke="none" stroke-width="1" />
<line x1="131.40" y1="551.60" x2="112.50" y2="561.59" stroke="#3a9ad8" stroke-width="1.8" />
<path d="M107.20,564.40 L111.10,558.94 L113.91,564.25 Z" fill="#3a9ad8" stroke="none" stroke-width="1" />
<rect x="53.90" y="448.30" width="99.00" height="157.30" fill="none" stroke="#8c8c8c" stroke-width="1.1" />
<line x1="53.90" y1="583.80" x2="56.10" y2="583.80" stroke="#8c8c8c" stroke-width="1" />
<line x1="152.90" y1="583.80" x2="150.70" y2="583.80" stroke="#8c8c8c" stroke-width="1" />
<text x="50.50" y="587.50" font-size="10.5" fill="#505050" stroke="#505050" stroke-width="0.18" text-anchor="end">200</text>
<line x1="53.90" y1="562.00" x2="56.10" y2="562.00" stroke="#8c8c8c" stroke-width="1" />
<line x1="152.90" y1="562.00" x2="150.70" y2="562.00" stroke="#8c8c8c" stroke-width="1" />
<line x1="53.90" y1="540.20" x2="56.10" y2="540.20" stroke="#8c8c8c" stroke-width="1" />
<line x1="152.90" y1="540.20" x2="150.70" y2="540.20" stroke="#8c8c8c" stroke-width="1" />
<text x="50.50" y="543.90" font-size="10.5" fill="#505050" stroke="#505050" stroke-width="0.18" text-anchor="end">600</text>
<line x1="53.90" y1="518.40" x2="56.10" y2="518.40" stroke="#8c8c8c" stroke-width="1" />
<line x1="152.90" y1="518.40" x2="150.70" y2="518.40" stroke="#8c8c8c" stroke-width="1" />
<line x1="53.90" y1="496.60" x2="56.10" y2="496.60" stroke="#8c8c8c" stroke-width="1" />
<line x1="152.90" y1="496.60" x2="150.70" y2="496.60" stroke="#8c8c8c" stroke-width="1" />
<text x="50.50" y="500.30" font-size="10.5" fill="#505050" stroke="#505050" stroke-width="0.18" text-anchor="end">1000</text>
<line x1="53.90" y1="474.80" x2="56.10" y2="474.80" stroke="#8c8c8c" stroke-width="1" />
<line x1="152.90" y1="474.80" x2="150.70" y2="474.80" stroke="#8c8c8c" stroke-width="1" />
<line x1="53.90" y1="453.00" x2="56.10" y2="453.00" stroke="#8c8c8c" stroke-width="1" />
<line x1="152.90" y1="453.00" x2="150.70" y2="453.00" stroke="#8c8c8c" stroke-width="1" />
<text x="50.50" y="456.70" font-size="10.5" fill="#505050" stroke="#505050" stroke-width="0.18" text-anchor="end">1400</text>
<text x="50.00" y="607.50" font-size="7.5" fill="#505050" stroke="#505050" stroke-width="0.18" text-anchor="end">0</text>
<line x1="53.90" y1="605.60" x2="53.90" y2="603.40" stroke="#8c8c8c" stroke-width="1" />
<line x1="53.90" y1="448.30" x2="53.90" y2="450.50" stroke="#8c8c8c" stroke-width="1" />
<text x="53.90" y="616.00" font-size="11" fill="#505050" stroke="#505050" stroke-width="0.18" text-anchor="middle">0</text>
<line x1="75.90" y1="605.60" x2="75.90" y2="603.40" stroke="#8c8c8c" stroke-width="1" />
<line x1="75.90" y1="448.30" x2="75.90" y2="450.50" stroke="#8c8c8c" stroke-width="1" />
<text x="75.90" y="616.00" font-size="11" fill="#505050" stroke="#505050" stroke-width="0.18" text-anchor="middle">2</text>
<line x1="97.90" y1="605.60" x2="97.90" y2="603.40" stroke="#8c8c8c" stroke-width="1" />
<line x1="97.90" y1="448.30" x2="97.90" y2="450.50" stroke="#8c8c8c" stroke-width="1" />
<text x="97.90" y="616.00" font-size="11" fill="#505050" stroke="#505050" stroke-width="0.18" text-anchor="middle">4</text>
<line x1="119.90" y1="605.60" x2="119.90" y2="603.40" stroke="#8c8c8c" stroke-width="1" />
<line x1="119.90" y1="448.30" x2="119.90" y2="450.50" stroke="#8c8c8c" stroke-width="1" />
<text x="119.90" y="616.00" font-size="11" fill="#505050" stroke="#505050" stroke-width="0.18" text-anchor="middle">6</text>
<line x1="141.90" y1="605.60" x2="141.90" y2="603.40" stroke="#8c8c8c" stroke-width="1" />
<line x1="141.90" y1="448.30" x2="141.90" y2="450.50" stroke="#8c8c8c" stroke-width="1" />
<text x="141.90" y="616.00" font-size="11" fill="#505050" stroke="#505050" stroke-width="0.18" text-anchor="middle">8</text>
<rect x="58.30" y="452.30" width="41.00" height="20.50" fill="#fff" stroke="#a0a0a0" stroke-width="0.9" />
<line x1="64.30" y1="458.00" x2="68.30" y2="458.00" stroke="#222" stroke-width="0.9" />
<line x1="66.30" y1="456.00" x2="66.30" y2="460.00" stroke="#222" stroke-width="0.9" />
<circle cx="66.30" cy="466.00" r="1.60" fill="none" stroke="#222" stroke-width="0.9" />
<text x="70.60" y="461.20" font-size="8.8" fill="#222" stroke="#222" stroke-width="0.18" textLength="21.50" lengthAdjust="spacingAndGlyphs">Inflate</text>
<text x="70.60" y="469.00" font-size="8.8" fill="#222" stroke="#222" stroke-width="0.18" textLength="23.70" lengthAdjust="spacingAndGlyphs">Deflate</text>
<text transform="translate(19.40,526.00) rotate(-90)" x="0" y="0" font-size="17" fill="#1a1a1a" stroke="#1a1a1a" stroke-width="0" text-anchor="middle" textLength="60.00" lengthAdjust="spacingAndGlyphs"><tspan font-style="italic">h</tspan><tspan font-size="12" dy="3" font-style="italic">m</tspan><tspan dy="-3"> (nm)</tspan></text>
<text x="73.40" y="633.00" font-size="16.5" fill="#1a1a1a" stroke="#1a1a1a" stroke-width="0" textLength="50.50" lengthAdjust="spacingAndGlyphs"><tspan font-style="italic">R</tspan> (&#956;m)</text>
<text x="192.30" y="441.50" font-size="20" fill="#1a1a1a" stroke="#1a1a1a" stroke-width="0" textLength="23.30" lengthAdjust="spacingAndGlyphs">iii)</text>
<rect x="196.70" y="447.90" width="100.90" height="157.50" fill="none" stroke="#8c8c8c" stroke-width="1.1" />
<line x1="196.70" y1="570.40" x2="198.90" y2="570.40" stroke="#8c8c8c" stroke-width="1" />
<line x1="297.60" y1="570.40" x2="295.40" y2="570.40" stroke="#8c8c8c" stroke-width="1" />
<line x1="196.70" y1="535.40" x2="198.90" y2="535.40" stroke="#8c8c8c" stroke-width="1" />
<line x1="297.60" y1="535.40" x2="295.40" y2="535.40" stroke="#8c8c8c" stroke-width="1" />
<line x1="196.70" y1="500.40" x2="198.90" y2="500.40" stroke="#8c8c8c" stroke-width="1" />
<line x1="297.60" y1="500.40" x2="295.40" y2="500.40" stroke="#8c8c8c" stroke-width="1" />
<line x1="196.70" y1="465.40" x2="198.90" y2="465.40" stroke="#8c8c8c" stroke-width="1" />
<line x1="297.60" y1="465.40" x2="295.40" y2="465.40" stroke="#8c8c8c" stroke-width="1" />
<text x="191.60" y="609.10" font-size="10.5" fill="#505050" stroke="#505050" stroke-width="0.18" text-anchor="end">0</text>
<text x="191.60" y="574.10" font-size="10.5" fill="#505050" stroke="#505050" stroke-width="0.18" text-anchor="end">0.1</text>
<text x="191.60" y="539.10" font-size="10.5" fill="#505050" stroke="#505050" stroke-width="0.18" text-anchor="end">0.2</text>
<text x="191.60" y="504.10" font-size="10.5" fill="#505050" stroke="#505050" stroke-width="0.18" text-anchor="end">0.3</text>
<text x="191.60" y="469.10" font-size="10.5" fill="#505050" stroke="#505050" stroke-width="0.18" text-anchor="end">0.4</text>
<line x1="213.10" y1="605.40" x2="213.10" y2="603.20" stroke="#8c8c8c" stroke-width="1" />
<line x1="213.10" y1="447.90" x2="213.10" y2="450.10" stroke="#8c8c8c" stroke-width="1" />
<text x="213.10" y="617.50" font-size="9.5" fill="#505050" stroke="#505050" stroke-width="0.18" text-anchor="middle">N2</text>
<line x1="247.00" y1="605.40" x2="247.00" y2="603.20" stroke="#8c8c8c" stroke-width="1" />
<line x1="247.00" y1="447.90" x2="247.00" y2="450.10" stroke="#8c8c8c" stroke-width="1" />
<text x="247.00" y="617.50" font-size="9.5" fill="#505050" stroke="#505050" stroke-width="0.18" text-anchor="middle">N3</text>
<line x1="280.80" y1="605.40" x2="280.80" y2="603.20" stroke="#8c8c8c" stroke-width="1" />
<line x1="280.80" y1="447.90" x2="280.80" y2="450.10" stroke="#8c8c8c" stroke-width="1" />
<text x="280.80" y="617.50" font-size="9.5" fill="#505050" stroke="#505050" stroke-width="0.18" text-anchor="middle">N4</text>
<circle cx="213.10" cy="532.50" r="3.90" fill="none" stroke="#d23a58" stroke-width="1.3" />
<line x1="209.20" y1="532.50" x2="217.00" y2="532.50" stroke="#d23a58" stroke-width="1.2" />
<circle cx="213.10" cy="599.80" r="3.90" fill="none" stroke="#3d93c8" stroke-width="1.3" />
<line x1="209.20" y1="599.80" x2="217.00" y2="599.80" stroke="#3d93c8" stroke-width="1.2" />
<line x1="247.00" y1="501.70" x2="247.00" y2="519.00" stroke="#d23a58" stroke-width="1.2" />
<line x1="244.20" y1="501.70" x2="249.80" y2="501.70" stroke="#d23a58" stroke-width="1.2" />
<line x1="244.20" y1="519.00" x2="249.80" y2="519.00" stroke="#d23a58" stroke-width="1.2" />
<path d="M247,504.0 L251.6,513.0 L242.4,513.0 Z" fill="none" stroke="#d23a58" stroke-width="1.3" />
<line x1="247.00" y1="583.90" x2="247.00" y2="599.10" stroke="#3d93c8" stroke-width="1.2" />
<line x1="244.20" y1="583.90" x2="249.80" y2="583.90" stroke="#3d93c8" stroke-width="1.2" />
<line x1="244.20" y1="599.10" x2="249.80" y2="599.10" stroke="#3d93c8" stroke-width="1.2" />
<path d="M247,586.2 L251.6,595.2 L242.4,595.2 Z" fill="none" stroke="#3d93c8" stroke-width="1.3" />
<line x1="280.80" y1="516.80" x2="280.80" y2="536.50" stroke="#d23a58" stroke-width="1.2" />
<line x1="278.00" y1="516.80" x2="283.60" y2="516.80" stroke="#d23a58" stroke-width="1.2" />
<line x1="278.00" y1="536.50" x2="283.60" y2="536.50" stroke="#d23a58" stroke-width="1.2" />
<line x1="280.80" y1="522.60" x2="280.80" y2="530.60" stroke="#d23a58" stroke-width="1.1" />
<line x1="277.34" y1="524.60" x2="284.26" y2="528.60" stroke="#d23a58" stroke-width="1.1" />
<line x1="277.34" y1="528.60" x2="284.26" y2="524.60" stroke="#d23a58" stroke-width="1.1" />
<line x1="280.80" y1="589.70" x2="280.80" y2="596.00" stroke="#3d93c8" stroke-width="1.2" />
<line x1="278.00" y1="589.70" x2="283.60" y2="589.70" stroke="#3d93c8" stroke-width="1.2" />
<line x1="278.00" y1="596.00" x2="283.60" y2="596.00" stroke="#3d93c8" stroke-width="1.2" />
<line x1="280.80" y1="589.00" x2="280.80" y2="596.60" stroke="#3d93c8" stroke-width="1.1" />
<line x1="277.51" y1="590.90" x2="284.09" y2="594.70" stroke="#3d93c8" stroke-width="1.1" />
<line x1="277.51" y1="594.70" x2="284.09" y2="590.90" stroke="#3d93c8" stroke-width="1.1" />
<rect x="237.10" y="451.90" width="55.90" height="29.20" fill="#fff" stroke="#a0a0a0" stroke-width="0.9" />
<line x1="243.40" y1="460.20" x2="261.00" y2="460.20" stroke="#d23a58" stroke-width="1.7" />
<line x1="243.40" y1="472.30" x2="261.00" y2="472.30" stroke="#3d93c8" stroke-width="1.7" />
<text x="269.00" y="463.80" font-size="12" fill="#222" stroke="#222" stroke-width="0.18" font-family="Liberation Serif">&#915;<tspan font-size="8" dx="1" dy="2.5">sep</tspan></text>
<text x="269.00" y="476.00" font-size="12" fill="#222" stroke="#222" stroke-width="0.18" font-family="Liberation Serif">&#915;<tspan font-size="8" dx="1" dy="2.5">adh</tspan></text>
<text transform="translate(170.50,527.80) rotate(-90)" x="0" y="0" font-size="17" fill="#1a1a1a" stroke="#1a1a1a" stroke-width="0" text-anchor="middle" textLength="60.00" lengthAdjust="spacingAndGlyphs"><tspan font-style="italic">&#947;</tspan> (Jm<tspan font-size="11" dy="-6">-2</tspan><tspan dy="6">)</tspan></text>
<text x="245.80" y="631.80" font-size="17" fill="#1a1a1a" stroke="#1a1a1a" stroke-width="0" text-anchor="middle" textLength="56.00" lengthAdjust="spacingAndGlyphs">Sample</text>
<text x="336.80" y="237.30" font-size="21" fill="#1a1a1a" stroke="#1a1a1a" stroke-width="0" textLength="18.30" lengthAdjust="spacingAndGlyphs">c)</text>
<pattern id="hatch" patternUnits="userSpaceOnUse" width="6.2" height="6.2" patternTransform="translate(0,0)"><rect width="6.2" height="6.2" fill="#f7c2c8"/><path d="M-1.55,1.55 L1.55,-1.55 M0,6.2 L6.2,0 M4.65,7.75 L7.75,4.65" stroke="#2a1a1a" stroke-width="1.25"/></pattern>
<rect x="375.70" y="419.18" width="41.50" height="170.52" fill="#f08f96" stroke="#1a1a1a" stroke-width="1.2" />
<rect x="417.20" y="430.75" width="41.50" height="158.95" fill="url(#hatch)" stroke="#1a1a1a" stroke-width="1.2" />
<line x1="396.45" y1="404.09" x2="396.45" y2="434.78" stroke="#222" stroke-width="1.2" />
<line x1="392.25" y1="404.09" x2="400.65" y2="404.09" stroke="#222" stroke-width="1.2" />
<line x1="392.25" y1="434.78" x2="400.65" y2="434.78" stroke="#222" stroke-width="1.2" />
<rect x="478.90" y="374.92" width="41.50" height="214.78" fill="#f08f96" stroke="#1a1a1a" stroke-width="1.2" />
<rect x="520.40" y="386.49" width="41.50" height="203.21" fill="url(#hatch)" stroke="#1a1a1a" stroke-width="1.2" />
<line x1="499.65" y1="362.85" x2="499.65" y2="387.49" stroke="#222" stroke-width="1.2" />
<line x1="495.45" y1="362.85" x2="503.85" y2="362.85" stroke="#222" stroke-width="1.2" />
<line x1="495.45" y1="387.49" x2="503.85" y2="387.49" stroke="#222" stroke-width="1.2" />
<rect x="583.20" y="362.85" width="41.50" height="226.85" fill="#f08f96" stroke="#1a1a1a" stroke-width="1.2" />
<rect x="624.70" y="370.90" width="41.50" height="218.81" fill="url(#hatch)" stroke="#1a1a1a" stroke-width="1.2" />
<line x1="603.95" y1="342.22" x2="603.95" y2="384.48" stroke="#222" stroke-width="1.2" />
<line x1="599.75" y1="342.22" x2="608.15" y2="342.22" stroke="#222" stroke-width="1.2" />
<line x1="599.75" y1="384.48" x2="608.15" y2="384.48" stroke="#222" stroke-width="1.2" />
<rect x="365.50" y="262.70" width="311.30" height="327.00" fill="none" stroke="#222" stroke-width="1.2" />
<line x1="360.50" y1="589.70" x2="365.50" y2="589.70" stroke="#222" stroke-width="1.1" />
<text x="357.20" y="594.70" font-size="14" fill="#1e1e2e" stroke="#1e1e2e" stroke-width="0.18" text-anchor="end">0</text>
<line x1="362.50" y1="564.55" x2="365.50" y2="564.55" stroke="#222" stroke-width="1.1" />
<line x1="360.50" y1="539.40" x2="365.50" y2="539.40" stroke="#222" stroke-width="1.1" />
<text x="357.20" y="544.40" font-size="14" fill="#1e1e2e" stroke="#1e1e2e" stroke-width="0.18" text-anchor="end">10</text>
<line x1="362.50" y1="514.25" x2="365.50" y2="514.25" stroke="#222" stroke-width="1.1" />
<line x1="360.50" y1="489.10" x2="365.50" y2="489.10" stroke="#222" stroke-width="1.1" />
<text x="357.20" y="494.10" font-size="14" fill="#1e1e2e" stroke="#1e1e2e" stroke-width="0.18" text-anchor="end">20</text>
<line x1="362.50" y1="463.95" x2="365.50" y2="463.95" stroke="#222" stroke-width="1.1" />
<line x1="360.50" y1="438.80" x2="365.50" y2="438.80" stroke="#222" stroke-width="1.1" />
<text x="357.20" y="443.80" font-size="14" fill="#1e1e2e" stroke="#1e1e2e" stroke-width="0.18" text-anchor="end">30</text>
<line x1="362.50" y1="413.65" x2="365.50" y2="413.65" stroke="#222" stroke-width="1.1" />
<line x1="360.50" y1="388.50" x2="365.50" y2="388.50" stroke="#222" stroke-width="1.1" />
<text x="357.20" y="393.50" font-size="14" fill="#1e1e2e" stroke="#1e1e2e" stroke-width="0.18" text-anchor="end">40</text>
<line x1="362.50" y1="363.35" x2="365.50" y2="363.35" stroke="#222" stroke-width="1.1" />
<line x1="360.50" y1="338.20" x2="365.50" y2="338.20" stroke="#222" stroke-width="1.1" />
<text x="357.20" y="343.20" font-size="14" fill="#1e1e2e" stroke="#1e1e2e" stroke-width="0.18" text-anchor="end">50</text>
<line x1="362.50" y1="313.05" x2="365.50" y2="313.05" stroke="#222" stroke-width="1.1" />
<line x1="360.50" y1="287.90" x2="365.50" y2="287.90" stroke="#222" stroke-width="1.1" />
<text x="357.20" y="292.90" font-size="14" fill="#1e1e2e" stroke="#1e1e2e" stroke-width="0.18" text-anchor="end">60</text>
<line x1="417.30" y1="589.70" x2="417.30" y2="594.20" stroke="#222" stroke-width="1.1" />
<text x="420.90" y="615.80" font-size="17.5" fill="#1e1e2e" stroke="#1e1e2e" stroke-width="0.18" text-anchor="middle" textLength="20.00" lengthAdjust="spacingAndGlyphs">1L</text>
<line x1="520.40" y1="589.70" x2="520.40" y2="594.20" stroke="#222" stroke-width="1.1" />
<text x="520.90" y="618.30" font-size="17.5" fill="#1e1e2e" stroke="#1e1e2e" stroke-width="0.18" text-anchor="middle" textLength="20.00" lengthAdjust="spacingAndGlyphs">2L</text>
<line x1="624.70" y1="589.70" x2="624.70" y2="594.20" stroke="#222" stroke-width="1.1" />
<text x="624.50" y="617.20" font-size="17.5" fill="#1e1e2e" stroke="#1e1e2e" stroke-width="0.18" text-anchor="middle" textLength="20.00" lengthAdjust="spacingAndGlyphs">3L</text>
<text x="384.40" y="291.90" font-size="18.5" fill="#1e1e2e" stroke="#1e1e2e" stroke-width="0.18" textLength="41.50" lengthAdjust="spacingAndGlyphs">WS<tspan font-size="18" dy="4.5">2</tspan></text>
<rect x="531.30" y="270.70" width="32.10" height="15.10" fill="#f08f96" stroke="#222" stroke-width="1" />
<rect x="531.30" y="288.70" width="32.10" height="15.70" fill="url(#hatch)" stroke="#222" stroke-width="1" />
<text x="568.20" y="282.00" font-size="14.6" fill="#1e1e2e" stroke="#1e1e2e" stroke-width="0.18" textLength="74.00" lengthAdjust="spacingAndGlyphs">Experiment</text>
<text x="568.20" y="300.80" font-size="14.6" fill="#1e1e2e" stroke="#1e1e2e" stroke-width="0.18" textLength="101.60" lengthAdjust="spacingAndGlyphs">DFT calculation</text>
<text transform="translate(335.10,426.60) rotate(-90)" x="0" y="0" font-size="18.4" fill="#1e1e2e" stroke="#1e1e2e" stroke-width="0.18" text-anchor="middle" textLength="226.00" lengthAdjust="spacingAndGlyphs">Adhesion energy (meV/&#197;<tspan font-size="12" dy="-7">2</tspan><tspan dy="7">)</tspan></text>
<text x="2.60" y="657.80" font-size="20.5" fill="#1a1a1a" stroke="#1a1a1a" stroke-width="0" textLength="20.30" lengthAdjust="spacingAndGlyphs">d)</text>
<text x="105.90" y="703.40" font-size="15" fill="#8b1414" stroke="#8b1414" stroke-width="0.18" textLength="77.00" lengthAdjust="spacingAndGlyphs">MoS<tspan font-size="13" dy="7">2</tspan><tspan dy="-7">/WS</tspan><tspan font-size="13" dy="7">2</tspan></text>
<line x1="87.60" y1="675.40" x2="200.70" y2="675.40" stroke="#8b1414" stroke-width="2.2" />
<path d="M99.00,665.20 L104.00,670.20 L99.00,675.20 L94.00,670.20 Z" fill="#8b1414" stroke="none" stroke-width="1" />
<path d="M111.90,667.50 L116.90,672.50 L111.90,677.50 L106.90,672.50 Z" fill="#8b1414" stroke="none" stroke-width="1" />
<path d="M125.00,676.10 L130.00,681.10 L125.00,686.10 L120.00,681.10 Z" fill="#8b1414" stroke="none" stroke-width="1" />
<path d="M137.90,668.80 L142.90,673.80 L137.90,678.80 L132.90,673.80 Z" fill="#8b1414" stroke="none" stroke-width="1" />
<path d="M150.60,677.40 L155.60,682.40 L150.60,687.40 L145.60,682.40 Z" fill="#8b1414" stroke="none" stroke-width="1" />
<path d="M163.50,668.50 L168.50,673.50 L163.50,678.50 L158.50,673.50 Z" fill="#8b1414" stroke="none" stroke-width="1" />
<path d="M176.40,675.70 L181.40,680.70 L176.40,685.70 L171.40,680.70 Z" fill="#8b1414" stroke="none" stroke-width="1" />
<path d="M189.30,668.50 L194.30,673.50 L189.30,678.50 L184.30,673.50 Z" fill="#8b1414" stroke="none" stroke-width="1" />
<line x1="163.50" y1="668.20" x2="163.50" y2="677.60" stroke="#8b1414" stroke-width="1.3" />
<line x1="160.50" y1="668.20" x2="166.50" y2="668.20" stroke="#8b1414" stroke-width="1.3" />
<line x1="160.50" y1="677.60" x2="166.50" y2="677.60" stroke="#8b1414" stroke-width="1.3" />
<rect x="87.60" y="654.90" width="113.10" height="62.80" fill="none" stroke="#111" stroke-width="1.5" />
<line x1="87.60" y1="664.85" x2="92.60" y2="664.85" stroke="#111" stroke-width="1.3" />
<line x1="200.70" y1="664.85" x2="195.70" y2="664.85" stroke="#111" stroke-width="1.3" />
<line x1="87.60" y1="674.80" x2="92.60" y2="674.80" stroke="#111" stroke-width="1.3" />
<line x1="200.70" y1="674.80" x2="195.70" y2="674.80" stroke="#111" stroke-width="1.3" />
<line x1="87.60" y1="684.75" x2="92.60" y2="684.75" stroke="#111" stroke-width="1.3" />
<line x1="200.70" y1="684.75" x2="195.70" y2="684.75" stroke="#111" stroke-width="1.3" />
<line x1="87.60" y1="694.70" x2="92.60" y2="694.70" stroke="#111" stroke-width="1.3" />
<line x1="200.70" y1="694.70" x2="195.70" y2="694.70" stroke="#111" stroke-width="1.3" />
<line x1="87.60" y1="704.65" x2="92.60" y2="704.65" stroke="#111" stroke-width="1.3" />
<line x1="200.70" y1="704.65" x2="195.70" y2="704.65" stroke="#111" stroke-width="1.3" />
<line x1="99.00" y1="717.70" x2="99.00" y2="711.70" stroke="#111" stroke-width="1.3" />
<line x1="111.90" y1="717.70" x2="111.90" y2="711.70" stroke="#111" stroke-width="1.3" />
<line x1="125.00" y1="717.70" x2="125.00" y2="711.70" stroke="#111" stroke-width="1.3" />
<line x1="137.90" y1="717.70" x2="137.90" y2="711.70" stroke="#111" stroke-width="1.3" />
<line x1="150.60" y1="717.70" x2="150.60" y2="711.70" stroke="#111" stroke-width="1.3" />
<line x1="163.50" y1="717.70" x2="163.50" y2="711.70" stroke="#111" stroke-width="1.3" />
<line x1="176.40" y1="717.70" x2="176.40" y2="711.70" stroke="#111" stroke-width="1.3" />
<line x1="189.30" y1="717.70" x2="189.30" y2="711.70" stroke="#111" stroke-width="1.3" />
<text x="144.15" y="733.90" font-size="16.5" fill="#111" stroke="#111" stroke-width="0.18" text-anchor="middle" textLength="61.00" lengthAdjust="spacingAndGlyphs">Dome #</text>
<text x="222.60" y="669.60" font-size="15" fill="#9b30ff" stroke="#9b30ff" stroke-width="0.18" textLength="80.40" lengthAdjust="spacingAndGlyphs">WSe<tspan font-size="13" dy="7">2</tspan><tspan dy="-7">/WS</tspan><tspan font-size="13" dy="7">2</tspan></text>
<line x1="205.20" y1="687.00" x2="319.20" y2="687.00" stroke="#9b30ff" stroke-width="2.2" />
<path d="M218.30,678.80 L223.30,683.80 L218.30,688.80 L213.30,683.80 Z" fill="#9b30ff" stroke="none" stroke-width="1" />
<path d="M232.80,683.80 L237.80,688.80 L232.80,693.80 L227.80,688.80 Z" fill="#9b30ff" stroke="none" stroke-width="1" />
<path d="M247.20,675.50 L252.20,680.50 L247.20,685.50 L242.20,680.50 Z" fill="#9b30ff" stroke="none" stroke-width="1" />
<path d="M262.00,680.00 L267.00,685.00 L262.00,690.00 L257.00,685.00 Z" fill="#9b30ff" stroke="none" stroke-width="1" />
<path d="M276.80,692.80 L281.80,697.80 L276.80,702.80 L271.80,697.80 Z" fill="#9b30ff" stroke="none" stroke-width="1" />
<path d="M291.20,685.70 L296.20,690.70 L291.20,695.70 L286.20,690.70 Z" fill="#9b30ff" stroke="none" stroke-width="1" />
<path d="M305.80,680.80 L310.80,685.80 L305.80,690.80 L300.80,685.80 Z" fill="#9b30ff" stroke="none" stroke-width="1" />
<rect x="205.20" y="654.90" width="114.00" height="62.80" fill="none" stroke="#111" stroke-width="1.5" />
<line x1="205.20" y1="664.85" x2="210.20" y2="664.85" stroke="#111" stroke-width="1.3" />
<line x1="319.20" y1="664.85" x2="314.20" y2="664.85" stroke="#111" stroke-width="1.3" />
<line x1="205.20" y1="674.80" x2="210.20" y2="674.80" stroke="#111" stroke-width="1.3" />
<line x1="319.20" y1="674.80" x2="314.20" y2="674.80" stroke="#111" stroke-width="1.3" />
<line x1="205.20" y1="684.75" x2="210.20" y2="684.75" stroke="#111" stroke-width="1.3" />
<line x1="319.20" y1="684.75" x2="314.20" y2="684.75" stroke="#111" stroke-width="1.3" />
<line x1="205.20" y1="694.70" x2="210.20" y2="694.70" stroke="#111" stroke-width="1.3" />
<line x1="319.20" y1="694.70" x2="314.20" y2="694.70" stroke="#111" stroke-width="1.3" />
<line x1="205.20" y1="704.65" x2="210.20" y2="704.65" stroke="#111" stroke-width="1.3" />
<line x1="319.20" y1="704.65" x2="314.20" y2="704.65" stroke="#111" stroke-width="1.3" />
<line x1="218.30" y1="717.70" x2="218.30" y2="711.70" stroke="#111" stroke-width="1.3" />
<line x1="232.80" y1="717.70" x2="232.80" y2="711.70" stroke="#111" stroke-width="1.3" />
<line x1="247.20" y1="717.70" x2="247.20" y2="711.70" stroke="#111" stroke-width="1.3" />
<line x1="262.00" y1="717.70" x2="262.00" y2="711.70" stroke="#111" stroke-width="1.3" />
<line x1="276.80" y1="717.70" x2="276.80" y2="711.70" stroke="#111" stroke-width="1.3" />
<line x1="291.20" y1="717.70" x2="291.20" y2="711.70" stroke="#111" stroke-width="1.3" />
<line x1="305.80" y1="717.70" x2="305.80" y2="711.70" stroke="#111" stroke-width="1.3" />
<text x="262.20" y="733.90" font-size="16.5" fill="#111" stroke="#111" stroke-width="0.18" text-anchor="middle" textLength="61.00" lengthAdjust="spacingAndGlyphs">Dome #</text>
<text x="341.20" y="672.20" font-size="15" fill="#85902a" stroke="#85902a" stroke-width="0.18" textLength="76.30" lengthAdjust="spacingAndGlyphs">MoS<tspan font-size="13" dy="7">2</tspan><tspan dy="-7">/hBN</tspan></text>
<line x1="323.30" y1="697.20" x2="437.20" y2="697.20" stroke="#85902a" stroke-width="2.2" />
<path d="M334.70,683.80 L339.70,688.80 L334.70,693.80 L329.70,688.80 Z" fill="#85902a" stroke="none" stroke-width="1" />
<path d="M347.50,689.30 L352.50,694.30 L347.50,699.30 L342.50,694.30 Z" fill="#85902a" stroke="none" stroke-width="1" />
<path d="M360.90,694.80 L365.90,699.80 L360.90,704.80 L355.90,699.80 Z" fill="#85902a" stroke="none" stroke-width="1" />
<path d="M373.70,690.80 L378.70,695.80 L373.70,700.80 L368.70,695.80 Z" fill="#85902a" stroke="none" stroke-width="1" />
<path d="M386.90,702.70 L391.90,707.70 L386.90,712.70 L381.90,707.70 Z" fill="#85902a" stroke="none" stroke-width="1" />
<path d="M399.70,695.80 L404.70,700.80 L399.70,705.80 L394.70,700.80 Z" fill="#85902a" stroke="none" stroke-width="1" />
<path d="M413.00,682.40 L418.00,687.40 L413.00,692.40 L408.00,687.40 Z" fill="#85902a" stroke="none" stroke-width="1" />
<path d="M426.00,697.50 L431.00,702.50 L426.00,707.50 L421.00,702.50 Z" fill="#85902a" stroke="none" stroke-width="1" />
<rect x="323.30" y="654.90" width="113.90" height="62.80" fill="none" stroke="#111" stroke-width="1.5" />
<line x1="323.30" y1="664.85" x2="328.30" y2="664.85" stroke="#111" stroke-width="1.3" />
<line x1="437.20" y1="664.85" x2="432.20" y2="664.85" stroke="#111" stroke-width="1.3" />
<line x1="323.30" y1="674.80" x2="328.30" y2="674.80" stroke="#111" stroke-width="1.3" />
<line x1="437.20" y1="674.80" x2="432.20" y2="674.80" stroke="#111" stroke-width="1.3" />
<line x1="323.30" y1="684.75" x2="328.30" y2="684.75" stroke="#111" stroke-width="1.3" />
<line x1="437.20" y1="684.75" x2="432.20" y2="684.75" stroke="#111" stroke-width="1.3" />
<line x1="323.30" y1="694.70" x2="328.30" y2="694.70" stroke="#111" stroke-width="1.3" />
<line x1="437.20" y1="694.70" x2="432.20" y2="694.70" stroke="#111" stroke-width="1.3" />
<line x1="323.30" y1="704.65" x2="328.30" y2="704.65" stroke="#111" stroke-width="1.3" />
<line x1="437.20" y1="704.65" x2="432.20" y2="704.65" stroke="#111" stroke-width="1.3" />
<line x1="334.70" y1="717.70" x2="334.70" y2="711.70" stroke="#111" stroke-width="1.3" />
<line x1="347.50" y1="717.70" x2="347.50" y2="711.70" stroke="#111" stroke-width="1.3" />
<line x1="360.90" y1="717.70" x2="360.90" y2="711.70" stroke="#111" stroke-width="1.3" />
<line x1="373.70" y1="717.70" x2="373.70" y2="711.70" stroke="#111" stroke-width="1.3" />
<line x1="386.90" y1="717.70" x2="386.90" y2="711.70" stroke="#111" stroke-width="1.3" />
<line x1="399.70" y1="717.70" x2="399.70" y2="711.70" stroke="#111" stroke-width="1.3" />
<line x1="413.00" y1="717.70" x2="413.00" y2="711.70" stroke="#111" stroke-width="1.3" />
<line x1="426.00" y1="717.70" x2="426.00" y2="711.70" stroke="#111" stroke-width="1.3" />
<text x="380.25" y="733.90" font-size="16.5" fill="#111" stroke="#111" stroke-width="0.18" text-anchor="middle" textLength="61.00" lengthAdjust="spacingAndGlyphs">Dome #</text>
<text x="460.20" y="671.60" font-size="15" fill="#ff2f92" stroke="#ff2f92" stroke-width="0.18" textLength="78.20" lengthAdjust="spacingAndGlyphs">WSe<tspan font-size="13" dy="7">2</tspan><tspan dy="-7">/hBN</tspan></text>
<line x1="440.90" y1="701.80" x2="555.20" y2="701.80" stroke="#ff2f92" stroke-width="2.2" />
<path d="M452.30,699.10 L457.30,704.10 L452.30,709.10 L447.30,704.10 Z" fill="#ff2f92" stroke="none" stroke-width="1" />
<path d="M465.10,696.80 L470.10,701.80 L465.10,706.80 L460.10,701.80 Z" fill="#ff2f92" stroke="none" stroke-width="1" />
<path d="M478.30,682.00 L483.30,687.00 L478.30,692.00 L473.30,687.00 Z" fill="#ff2f92" stroke="none" stroke-width="1" />
<path d="M491.50,698.70 L496.50,703.70 L491.50,708.70 L486.50,703.70 Z" fill="#ff2f92" stroke="none" stroke-width="1" />
<path d="M504.30,703.10 L509.30,708.10 L504.30,713.10 L499.30,708.10 Z" fill="#ff2f92" stroke="none" stroke-width="1" />
<path d="M517.30,689.30 L522.30,694.30 L517.30,699.30 L512.30,694.30 Z" fill="#ff2f92" stroke="none" stroke-width="1" />
<path d="M530.50,697.50 L535.50,702.50 L530.50,707.50 L525.50,702.50 Z" fill="#ff2f92" stroke="none" stroke-width="1" />
<path d="M543.40,708.00 L548.40,713.00 L543.40,718.00 L538.40,713.00 Z" fill="#ff2f92" stroke="none" stroke-width="1" />
<rect x="440.90" y="654.90" width="114.30" height="62.80" fill="none" stroke="#111" stroke-width="1.5" />
<line x1="440.90" y1="664.85" x2="445.90" y2="664.85" stroke="#111" stroke-width="1.3" />
<line x1="555.20" y1="664.85" x2="550.20" y2="664.85" stroke="#111" stroke-width="1.3" />
<line x1="440.90" y1="674.80" x2="445.90" y2="674.80" stroke="#111" stroke-width="1.3" />
<line x1="555.20" y1="674.80" x2="550.20" y2="674.80" stroke="#111" stroke-width="1.3" />
<line x1="440.90" y1="684.75" x2="445.90" y2="684.75" stroke="#111" stroke-width="1.3" />
<line x1="555.20" y1="684.75" x2="550.20" y2="684.75" stroke="#111" stroke-width="1.3" />
<line x1="440.90" y1="694.70" x2="445.90" y2="694.70" stroke="#111" stroke-width="1.3" />
<line x1="555.20" y1="694.70" x2="550.20" y2="694.70" stroke="#111" stroke-width="1.3" />
<line x1="440.90" y1="704.65" x2="445.90" y2="704.65" stroke="#111" stroke-width="1.3" />
<line x1="555.20" y1="704.65" x2="550.20" y2="704.65" stroke="#111" stroke-width="1.3" />
<line x1="452.30" y1="717.70" x2="452.30" y2="711.70" stroke="#111" stroke-width="1.3" />
<line x1="465.10" y1="717.70" x2="465.10" y2="711.70" stroke="#111" stroke-width="1.3" />
<line x1="478.30" y1="717.70" x2="478.30" y2="711.70" stroke="#111" stroke-width="1.3" />
<line x1="491.50" y1="717.70" x2="491.50" y2="711.70" stroke="#111" stroke-width="1.3" />
<line x1="504.30" y1="717.70" x2="504.30" y2="711.70" stroke="#111" stroke-width="1.3" />
<line x1="517.30" y1="717.70" x2="517.30" y2="711.70" stroke="#111" stroke-width="1.3" />
<line x1="530.50" y1="717.70" x2="530.50" y2="711.70" stroke="#111" stroke-width="1.3" />
<line x1="543.40" y1="717.70" x2="543.40" y2="711.70" stroke="#111" stroke-width="1.3" />
<text x="498.05" y="733.90" font-size="16.5" fill="#111" stroke="#111" stroke-width="0.18" text-anchor="middle" textLength="61.00" lengthAdjust="spacingAndGlyphs">Dome #</text>
<text x="573.60" y="672.60" font-size="15" fill="#2e9a2e" stroke="#2e9a2e" stroke-width="0.18" textLength="85.80" lengthAdjust="spacingAndGlyphs">hBN/MoTe<tspan font-size="13" dy="7">2</tspan></text>
<line x1="558.50" y1="694.30" x2="673.20" y2="694.30" stroke="#2e9a2e" stroke-width="2.2" />
<path d="M585.90,685.30 L590.90,690.30 L585.90,695.30 L580.90,690.30 Z" fill="#2e9a2e" stroke="none" stroke-width="1" />
<path d="M616.00,698.70 L621.00,703.70 L616.00,708.70 L611.00,703.70 Z" fill="#2e9a2e" stroke="none" stroke-width="1" />
<path d="M646.00,684.90 L651.00,689.90 L646.00,694.90 L641.00,689.90 Z" fill="#2e9a2e" stroke="none" stroke-width="1" />
<rect x="558.50" y="654.90" width="114.70" height="62.80" fill="none" stroke="#111" stroke-width="1.5" />
<line x1="558.50" y1="664.85" x2="563.50" y2="664.85" stroke="#111" stroke-width="1.3" />
<line x1="673.20" y1="664.85" x2="668.20" y2="664.85" stroke="#111" stroke-width="1.3" />
<line x1="558.50" y1="674.80" x2="563.50" y2="674.80" stroke="#111" stroke-width="1.3" />
<line x1="673.20" y1="674.80" x2="668.20" y2="674.80" stroke="#111" stroke-width="1.3" />
<line x1="558.50" y1="684.75" x2="563.50" y2="684.75" stroke="#111" stroke-width="1.3" />
<line x1="673.20" y1="684.75" x2="668.20" y2="684.75" stroke="#111" stroke-width="1.3" />
<line x1="558.50" y1="694.70" x2="563.50" y2="694.70" stroke="#111" stroke-width="1.3" />
<line x1="673.20" y1="694.70" x2="668.20" y2="694.70" stroke="#111" stroke-width="1.3" />
<line x1="558.50" y1="704.65" x2="563.50" y2="704.65" stroke="#111" stroke-width="1.3" />
<line x1="673.20" y1="704.65" x2="668.20" y2="704.65" stroke="#111" stroke-width="1.3" />
<line x1="585.90" y1="717.70" x2="585.90" y2="711.70" stroke="#111" stroke-width="1.3" />
<line x1="616.00" y1="717.70" x2="616.00" y2="711.70" stroke="#111" stroke-width="1.3" />
<line x1="646.00" y1="717.70" x2="646.00" y2="711.70" stroke="#111" stroke-width="1.3" />
<text x="615.85" y="733.90" font-size="16.5" fill="#111" stroke="#111" stroke-width="0.18" text-anchor="middle" textLength="61.00" lengthAdjust="spacingAndGlyphs">Dome #</text>
<text x="82.00" y="660.50" font-size="15.6" fill="#111" stroke="#111" stroke-width="0.18" text-anchor="end" textLength="30.30" lengthAdjust="spacingAndGlyphs">0.18</text>
<text x="82.00" y="680.50" font-size="15.6" fill="#111" stroke="#111" stroke-width="0.18" text-anchor="end" textLength="30.30" lengthAdjust="spacingAndGlyphs">0.15</text>
<text x="82.00" y="700.50" font-size="15.6" fill="#111" stroke="#111" stroke-width="0.18" text-anchor="end" textLength="30.30" lengthAdjust="spacingAndGlyphs">0.12</text>
<text x="82.00" y="720.50" font-size="15.6" fill="#111" stroke="#111" stroke-width="0.18" text-anchor="end" textLength="30.30" lengthAdjust="spacingAndGlyphs">0.09</text>
<text transform="translate(43.50,680.00) rotate(-90)" x="0" y="0" font-size="17" fill="#111" stroke="#111" stroke-width="0.18" text-anchor="middle" textLength="40.00" lengthAdjust="spacingAndGlyphs"><tspan font-style="italic">h</tspan><tspan font-size="12" dy="3" font-style="italic">m</tspan><tspan dy="-3">/</tspan><tspan font-style="italic">R</tspan></text>
<path d="M111.30,768.00 L116.30,773.00 L111.30,778.00 L106.30,773.00 Z" fill="#8b1414" stroke="none" stroke-width="1" />
<path d="M118.90,766.10 L123.90,771.10 L118.90,776.10 L113.90,771.10 Z" fill="#8b1414" stroke="none" stroke-width="1" />
<path d="M126.10,764.20 L131.10,769.20 L126.10,774.20 L121.10,769.20 Z" fill="#8b1414" stroke="none" stroke-width="1" />
<path d="M129.00,761.90 L134.00,766.90 L129.00,771.90 L124.00,766.90 Z" fill="#8b1414" stroke="none" stroke-width="1" />
<path d="M137.90,759.00 L142.90,764.00 L137.90,769.00 L132.90,764.00 Z" fill="#8b1414" stroke="none" stroke-width="1" />
<path d="M147.90,755.10 L152.90,760.10 L147.90,765.10 L142.90,760.10 Z" fill="#8b1414" stroke="none" stroke-width="1" />
<rect x="88.00" y="741.20" width="113.00" height="44.60" fill="none" stroke="#111" stroke-width="1.5" />
<line x1="89.24" y1="785.80" x2="89.24" y2="782.80" stroke="#111" stroke-width="1.2" />
<line x1="89.24" y1="741.20" x2="89.24" y2="744.20" stroke="#111" stroke-width="1.2" />
<line x1="96.11" y1="785.80" x2="96.11" y2="782.80" stroke="#111" stroke-width="1.2" />
<line x1="96.11" y1="741.20" x2="96.11" y2="744.20" stroke="#111" stroke-width="1.2" />
<line x1="101.44" y1="785.80" x2="101.44" y2="782.80" stroke="#111" stroke-width="1.2" />
<line x1="101.44" y1="741.20" x2="101.44" y2="744.20" stroke="#111" stroke-width="1.2" />
<line x1="105.80" y1="785.80" x2="105.80" y2="782.80" stroke="#111" stroke-width="1.2" />
<line x1="105.80" y1="741.20" x2="105.80" y2="744.20" stroke="#111" stroke-width="1.2" />
<line x1="109.48" y1="785.80" x2="109.48" y2="782.80" stroke="#111" stroke-width="1.2" />
<line x1="109.48" y1="741.20" x2="109.48" y2="744.20" stroke="#111" stroke-width="1.2" />
<line x1="112.67" y1="785.80" x2="112.67" y2="782.80" stroke="#111" stroke-width="1.2" />
<line x1="112.67" y1="741.20" x2="112.67" y2="744.20" stroke="#111" stroke-width="1.2" />
<line x1="115.48" y1="785.80" x2="115.48" y2="782.80" stroke="#111" stroke-width="1.2" />
<line x1="115.48" y1="741.20" x2="115.48" y2="744.20" stroke="#111" stroke-width="1.2" />
<line x1="118.00" y1="785.80" x2="118.00" y2="780.80" stroke="#111" stroke-width="1.2" />
<line x1="118.00" y1="741.20" x2="118.00" y2="746.20" stroke="#111" stroke-width="1.2" />
<line x1="134.56" y1="785.80" x2="134.56" y2="782.80" stroke="#111" stroke-width="1.2" />
<line x1="134.56" y1="741.20" x2="134.56" y2="744.20" stroke="#111" stroke-width="1.2" />
<line x1="144.24" y1="785.80" x2="144.24" y2="782.80" stroke="#111" stroke-width="1.2" />
<line x1="144.24" y1="741.20" x2="144.24" y2="744.20" stroke="#111" stroke-width="1.2" />
<line x1="151.11" y1="785.80" x2="151.11" y2="782.80" stroke="#111" stroke-width="1.2" />
<line x1="151.11" y1="741.20" x2="151.11" y2="744.20" stroke="#111" stroke-width="1.2" />
<line x1="156.44" y1="785.80" x2="156.44" y2="782.80" stroke="#111" stroke-width="1.2" />
<line x1="156.44" y1="741.20" x2="156.44" y2="744.20" stroke="#111" stroke-width="1.2" />
<line x1="160.80" y1="785.80" x2="160.80" y2="782.80" stroke="#111" stroke-width="1.2" />
<line x1="160.80" y1="741.20" x2="160.80" y2="744.20" stroke="#111" stroke-width="1.2" />
<line x1="164.48" y1="785.80" x2="164.48" y2="782.80" stroke="#111" stroke-width="1.2" />
<line x1="164.48" y1="741.20" x2="164.48" y2="744.20" stroke="#111" stroke-width="1.2" />
<line x1="167.67" y1="785.80" x2="167.67" y2="782.80" stroke="#111" stroke-width="1.2" />
<line x1="167.67" y1="741.20" x2="167.67" y2="744.20" stroke="#111" stroke-width="1.2" />
<line x1="170.48" y1="785.80" x2="170.48" y2="782.80" stroke="#111" stroke-width="1.2" />
<line x1="170.48" y1="741.20" x2="170.48" y2="744.20" stroke="#111" stroke-width="1.2" />
<line x1="173.00" y1="785.80" x2="173.00" y2="780.80" stroke="#111" stroke-width="1.2" />
<line x1="173.00" y1="741.20" x2="173.00" y2="746.20" stroke="#111" stroke-width="1.2" />
<line x1="189.56" y1="785.80" x2="189.56" y2="782.80" stroke="#111" stroke-width="1.2" />
<line x1="189.56" y1="741.20" x2="189.56" y2="744.20" stroke="#111" stroke-width="1.2" />
<line x1="199.24" y1="785.80" x2="199.24" y2="782.80" stroke="#111" stroke-width="1.2" />
<line x1="199.24" y1="741.20" x2="199.24" y2="744.20" stroke="#111" stroke-width="1.2" />
<line x1="88.00" y1="784.84" x2="91.00" y2="784.84" stroke="#111" stroke-width="1.2" />
<line x1="201.00" y1="784.84" x2="198.00" y2="784.84" stroke="#111" stroke-width="1.2" />
<line x1="88.00" y1="782.42" x2="91.00" y2="782.42" stroke="#111" stroke-width="1.2" />
<line x1="201.00" y1="782.42" x2="198.00" y2="782.42" stroke="#111" stroke-width="1.2" />
<line x1="88.00" y1="780.54" x2="91.00" y2="780.54" stroke="#111" stroke-width="1.2" />
<line x1="201.00" y1="780.54" x2="198.00" y2="780.54" stroke="#111" stroke-width="1.2" />
<line x1="88.00" y1="779.00" x2="91.00" y2="779.00" stroke="#111" stroke-width="1.2" />
<line x1="201.00" y1="779.00" x2="198.00" y2="779.00" stroke="#111" stroke-width="1.2" />
<line x1="88.00" y1="777.71" x2="91.00" y2="777.71" stroke="#111" stroke-width="1.2" />
<line x1="201.00" y1="777.71" x2="198.00" y2="777.71" stroke="#111" stroke-width="1.2" />
<line x1="88.00" y1="776.58" x2="91.00" y2="776.58" stroke="#111" stroke-width="1.2" />
<line x1="201.00" y1="776.58" x2="198.00" y2="776.58" stroke="#111" stroke-width="1.2" />
<line x1="88.00" y1="775.59" x2="91.00" y2="775.59" stroke="#111" stroke-width="1.2" />
<line x1="201.00" y1="775.59" x2="198.00" y2="775.59" stroke="#111" stroke-width="1.2" />
<line x1="88.00" y1="774.70" x2="93.00" y2="774.70" stroke="#111" stroke-width="1.2" />
<line x1="201.00" y1="774.70" x2="196.00" y2="774.70" stroke="#111" stroke-width="1.2" />
<line x1="88.00" y1="768.86" x2="91.00" y2="768.86" stroke="#111" stroke-width="1.2" />
<line x1="201.00" y1="768.86" x2="198.00" y2="768.86" stroke="#111" stroke-width="1.2" />
<line x1="88.00" y1="765.44" x2="91.00" y2="765.44" stroke="#111" stroke-width="1.2" />
<line x1="201.00" y1="765.44" x2="198.00" y2="765.44" stroke="#111" stroke-width="1.2" />
<line x1="88.00" y1="763.02" x2="91.00" y2="763.02" stroke="#111" stroke-width="1.2" />
<line x1="201.00" y1="763.02" x2="198.00" y2="763.02" stroke="#111" stroke-width="1.2" />
<line x1="88.00" y1="761.14" x2="91.00" y2="761.14" stroke="#111" stroke-width="1.2" />
<line x1="201.00" y1="761.14" x2="198.00" y2="761.14" stroke="#111" stroke-width="1.2" />
<line x1="88.00" y1="759.60" x2="91.00" y2="759.60" stroke="#111" stroke-width="1.2" />
<line x1="201.00" y1="759.60" x2="198.00" y2="759.60" stroke="#111" stroke-width="1.2" />
<line x1="88.00" y1="758.31" x2="91.00" y2="758.31" stroke="#111" stroke-width="1.2" />
<line x1="201.00" y1="758.31" x2="198.00" y2="758.31" stroke="#111" stroke-width="1.2" />
<line x1="88.00" y1="757.18" x2="91.00" y2="757.18" stroke="#111" stroke-width="1.2" />
<line x1="201.00" y1="757.18" x2="198.00" y2="757.18" stroke="#111" stroke-width="1.2" />
<line x1="88.00" y1="756.19" x2="91.00" y2="756.19" stroke="#111" stroke-width="1.2" />
<line x1="201.00" y1="756.19" x2="198.00" y2="756.19" stroke="#111" stroke-width="1.2" />
<line x1="88.00" y1="755.30" x2="93.00" y2="755.30" stroke="#111" stroke-width="1.2" />
<line x1="201.00" y1="755.30" x2="196.00" y2="755.30" stroke="#111" stroke-width="1.2" />
<line x1="88.00" y1="749.46" x2="91.00" y2="749.46" stroke="#111" stroke-width="1.2" />
<line x1="201.00" y1="749.46" x2="198.00" y2="749.46" stroke="#111" stroke-width="1.2" />
<line x1="88.00" y1="746.04" x2="91.00" y2="746.04" stroke="#111" stroke-width="1.2" />
<line x1="201.00" y1="746.04" x2="198.00" y2="746.04" stroke="#111" stroke-width="1.2" />
<line x1="88.00" y1="743.62" x2="91.00" y2="743.62" stroke="#111" stroke-width="1.2" />
<line x1="201.00" y1="743.62" x2="198.00" y2="743.62" stroke="#111" stroke-width="1.2" />
<line x1="88.00" y1="741.74" x2="91.00" y2="741.74" stroke="#111" stroke-width="1.2" />
<line x1="201.00" y1="741.74" x2="198.00" y2="741.74" stroke="#111" stroke-width="1.2" />
<text x="115.00" y="803.50" font-size="14.5" fill="#111" stroke="#111" stroke-width="0.18" text-anchor="middle">10</text>
<text x="123.50" y="797.00" font-size="10" fill="#111" stroke="#111" stroke-width="0.18">2</text>
<text x="170.00" y="803.50" font-size="14.5" fill="#111" stroke="#111" stroke-width="0.18" text-anchor="middle">10</text>
<text x="178.50" y="797.00" font-size="10" fill="#111" stroke="#111" stroke-width="0.18">3</text>
<text x="144.50" y="818.80" font-size="17" fill="#111" stroke="#111" stroke-width="0.18" text-anchor="middle" textLength="54.50" lengthAdjust="spacingAndGlyphs"><tspan font-style="italic">R</tspan> (nm)</text>
<path d="M245.00,762.00 L250.00,767.00 L245.00,772.00 L240.00,767.00 Z" fill="#9b30ff" stroke="none" stroke-width="1" />
<path d="M249.00,760.50 L254.00,765.50 L249.00,770.50 L244.00,765.50 Z" fill="#9b30ff" stroke="none" stroke-width="1" />
<path d="M252.50,759.20 L257.50,764.20 L252.50,769.20 L247.50,764.20 Z" fill="#9b30ff" stroke="none" stroke-width="1" />
<path d="M256.00,760.00 L261.00,765.00 L256.00,770.00 L251.00,765.00 Z" fill="#9b30ff" stroke="none" stroke-width="1" />
<path d="M259.50,759.00 L264.50,764.00 L259.50,769.00 L254.50,764.00 Z" fill="#9b30ff" stroke="none" stroke-width="1" />
<path d="M261.00,760.50 L266.00,765.50 L261.00,770.50 L256.00,765.50 Z" fill="#9b30ff" stroke="none" stroke-width="1" />
<rect x="204.60" y="741.20" width="113.00" height="44.60" fill="none" stroke="#111" stroke-width="1.5" />
<line x1="205.84" y1="785.80" x2="205.84" y2="782.80" stroke="#111" stroke-width="1.2" />
<line x1="205.84" y1="741.20" x2="205.84" y2="744.20" stroke="#111" stroke-width="1.2" />
<line x1="212.71" y1="785.80" x2="212.71" y2="782.80" stroke="#111" stroke-width="1.2" />
<line x1="212.71" y1="741.20" x2="212.71" y2="744.20" stroke="#111" stroke-width="1.2" />
<line x1="218.04" y1="785.80" x2="218.04" y2="782.80" stroke="#111" stroke-width="1.2" />
<line x1="218.04" y1="741.20" x2="218.04" y2="744.20" stroke="#111" stroke-width="1.2" />
<line x1="222.40" y1="785.80" x2="222.40" y2="782.80" stroke="#111" stroke-width="1.2" />
<line x1="222.40" y1="741.20" x2="222.40" y2="744.20" stroke="#111" stroke-width="1.2" />
<line x1="226.08" y1="785.80" x2="226.08" y2="782.80" stroke="#111" stroke-width="1.2" />
<line x1="226.08" y1="741.20" x2="226.08" y2="744.20" stroke="#111" stroke-width="1.2" />
<line x1="229.27" y1="785.80" x2="229.27" y2="782.80" stroke="#111" stroke-width="1.2" />
<line x1="229.27" y1="741.20" x2="229.27" y2="744.20" stroke="#111" stroke-width="1.2" />
<line x1="232.08" y1="785.80" x2="232.08" y2="782.80" stroke="#111" stroke-width="1.2" />
<line x1="232.08" y1="741.20" x2="232.08" y2="744.20" stroke="#111" stroke-width="1.2" />
<line x1="234.60" y1="785.80" x2="234.60" y2="780.80" stroke="#111" stroke-width="1.2" />
<line x1="234.60" y1="741.20" x2="234.60" y2="746.20" stroke="#111" stroke-width="1.2" />
<line x1="251.16" y1="785.80" x2="251.16" y2="782.80" stroke="#111" stroke-width="1.2" />
<line x1="251.16" y1="741.20" x2="251.16" y2="744.20" stroke="#111" stroke-width="1.2" />
<line x1="260.84" y1="785.80" x2="260.84" y2="782.80" stroke="#111" stroke-width="1.2" />
<line x1="260.84" y1="741.20" x2="260.84" y2="744.20" stroke="#111" stroke-width="1.2" />
<line x1="267.71" y1="785.80" x2="267.71" y2="782.80" stroke="#111" stroke-width="1.2" />
<line x1="267.71" y1="741.20" x2="267.71" y2="744.20" stroke="#111" stroke-width="1.2" />
<line x1="273.04" y1="785.80" x2="273.04" y2="782.80" stroke="#111" stroke-width="1.2" />
<line x1="273.04" y1="741.20" x2="273.04" y2="744.20" stroke="#111" stroke-width="1.2" />
<line x1="277.40" y1="785.80" x2="277.40" y2="782.80" stroke="#111" stroke-width="1.2" />
<line x1="277.40" y1="741.20" x2="277.40" y2="744.20" stroke="#111" stroke-width="1.2" />
<line x1="281.08" y1="785.80" x2="281.08" y2="782.80" stroke="#111" stroke-width="1.2" />
<line x1="281.08" y1="741.20" x2="281.08" y2="744.20" stroke="#111" stroke-width="1.2" />
<line x1="284.27" y1="785.80" x2="284.27" y2="782.80" stroke="#111" stroke-width="1.2" />
<line x1="284.27" y1="741.20" x2="284.27" y2="744.20" stroke="#111" stroke-width="1.2" />
<line x1="287.08" y1="785.80" x2="287.08" y2="782.80" stroke="#111" stroke-width="1.2" />
<line x1="287.08" y1="741.20" x2="287.08" y2="744.20" stroke="#111" stroke-width="1.2" />
<line x1="289.60" y1="785.80" x2="289.60" y2="780.80" stroke="#111" stroke-width="1.2" />
<line x1="289.60" y1="741.20" x2="289.60" y2="746.20" stroke="#111" stroke-width="1.2" />
<line x1="306.16" y1="785.80" x2="306.16" y2="782.80" stroke="#111" stroke-width="1.2" />
<line x1="306.16" y1="741.20" x2="306.16" y2="744.20" stroke="#111" stroke-width="1.2" />
<line x1="315.84" y1="785.80" x2="315.84" y2="782.80" stroke="#111" stroke-width="1.2" />
<line x1="315.84" y1="741.20" x2="315.84" y2="744.20" stroke="#111" stroke-width="1.2" />
<line x1="204.60" y1="784.84" x2="207.60" y2="784.84" stroke="#111" stroke-width="1.2" />
<line x1="317.60" y1="784.84" x2="314.60" y2="784.84" stroke="#111" stroke-width="1.2" />
<line x1="204.60" y1="782.42" x2="207.60" y2="782.42" stroke="#111" stroke-width="1.2" />
<line x1="317.60" y1="782.42" x2="314.60" y2="782.42" stroke="#111" stroke-width="1.2" />
<line x1="204.60" y1="780.54" x2="207.60" y2="780.54" stroke="#111" stroke-width="1.2" />
<line x1="317.60" y1="780.54" x2="314.60" y2="780.54" stroke="#111" stroke-width="1.2" />
<line x1="204.60" y1="779.00" x2="207.60" y2="779.00" stroke="#111" stroke-width="1.2" />
<line x1="317.60" y1="779.00" x2="314.60" y2="779.00" stroke="#111" stroke-width="1.2" />
<line x1="204.60" y1="777.71" x2="207.60" y2="777.71" stroke="#111" stroke-width="1.2" />
<line x1="317.60" y1="777.71" x2="314.60" y2="777.71" stroke="#111" stroke-width="1.2" />
<line x1="204.60" y1="776.58" x2="207.60" y2="776.58" stroke="#111" stroke-width="1.2" />
<line x1="317.60" y1="776.58" x2="314.60" y2="776.58" stroke="#111" stroke-width="1.2" />
<line x1="204.60" y1="775.59" x2="207.60" y2="775.59" stroke="#111" stroke-width="1.2" />
<line x1="317.60" y1="775.59" x2="314.60" y2="775.59" stroke="#111" stroke-width="1.2" />
<line x1="204.60" y1="774.70" x2="209.60" y2="774.70" stroke="#111" stroke-width="1.2" />
<line x1="317.60" y1="774.70" x2="312.60" y2="774.70" stroke="#111" stroke-width="1.2" />
<line x1="204.60" y1="768.86" x2="207.60" y2="768.86" stroke="#111" stroke-width="1.2" />
<line x1="317.60" y1="768.86" x2="314.60" y2="768.86" stroke="#111" stroke-width="1.2" />
<line x1="204.60" y1="765.44" x2="207.60" y2="765.44" stroke="#111" stroke-width="1.2" />
<line x1="317.60" y1="765.44" x2="314.60" y2="765.44" stroke="#111" stroke-width="1.2" />
<line x1="204.60" y1="763.02" x2="207.60" y2="763.02" stroke="#111" stroke-width="1.2" />
<line x1="317.60" y1="763.02" x2="314.60" y2="763.02" stroke="#111" stroke-width="1.2" />
<line x1="204.60" y1="761.14" x2="207.60" y2="761.14" stroke="#111" stroke-width="1.2" />
<line x1="317.60" y1="761.14" x2="314.60" y2="761.14" stroke="#111" stroke-width="1.2" />
<line x1="204.60" y1="759.60" x2="207.60" y2="759.60" stroke="#111" stroke-width="1.2" />
<line x1="317.60" y1="759.60" x2="314.60" y2="759.60" stroke="#111" stroke-width="1.2" />
<line x1="204.60" y1="758.31" x2="207.60" y2="758.31" stroke="#111" stroke-width="1.2" />
<line x1="317.60" y1="758.31" x2="314.60" y2="758.31" stroke="#111" stroke-width="1.2" />
<line x1="204.60" y1="757.18" x2="207.60" y2="757.18" stroke="#111" stroke-width="1.2" />
<line x1="317.60" y1="757.18" x2="314.60" y2="757.18" stroke="#111" stroke-width="1.2" />
<line x1="204.60" y1="756.19" x2="207.60" y2="756.19" stroke="#111" stroke-width="1.2" />
<line x1="317.60" y1="756.19" x2="314.60" y2="756.19" stroke="#111" stroke-width="1.2" />
<line x1="204.60" y1="755.30" x2="209.60" y2="755.30" stroke="#111" stroke-width="1.2" />
<line x1="317.60" y1="755.30" x2="312.60" y2="755.30" stroke="#111" stroke-width="1.2" />
<line x1="204.60" y1="749.46" x2="207.60" y2="749.46" stroke="#111" stroke-width="1.2" />
<line x1="317.60" y1="749.46" x2="314.60" y2="749.46" stroke="#111" stroke-width="1.2" />
<line x1="204.60" y1="746.04" x2="207.60" y2="746.04" stroke="#111" stroke-width="1.2" />
<line x1="317.60" y1="746.04" x2="314.60" y2="746.04" stroke="#111" stroke-width="1.2" />
<line x1="204.60" y1="743.62" x2="207.60" y2="743.62" stroke="#111" stroke-width="1.2" />
<line x1="317.60" y1="743.62" x2="314.60" y2="743.62" stroke="#111" stroke-width="1.2" />
<line x1="204.60" y1="741.74" x2="207.60" y2="741.74" stroke="#111" stroke-width="1.2" />
<line x1="317.60" y1="741.74" x2="314.60" y2="741.74" stroke="#111" stroke-width="1.2" />
<text x="231.60" y="803.50" font-size="14.5" fill="#111" stroke="#111" stroke-width="0.18" text-anchor="middle">10</text>
<text x="240.10" y="797.00" font-size="10" fill="#111" stroke="#111" stroke-width="0.18">2</text>
<text x="286.60" y="803.50" font-size="14.5" fill="#111" stroke="#111" stroke-width="0.18" text-anchor="middle">10</text>
<text x="295.10" y="797.00" font-size="10" fill="#111" stroke="#111" stroke-width="0.18">3</text>
<text x="261.10" y="818.80" font-size="17" fill="#111" stroke="#111" stroke-width="0.18" text-anchor="middle" textLength="54.50" lengthAdjust="spacingAndGlyphs"><tspan font-style="italic">R</tspan> (nm)</text>
<path d="M346.50,769.50 L351.50,774.50 L346.50,779.50 L341.50,774.50 Z" fill="#85902a" stroke="none" stroke-width="1" />
<path d="M351.20,768.40 L356.20,773.40 L351.20,778.40 L346.20,773.40 Z" fill="#85902a" stroke="none" stroke-width="1" />
<path d="M357.40,767.30 L362.40,772.30 L357.40,777.30 L352.40,772.30 Z" fill="#85902a" stroke="none" stroke-width="1" />
<path d="M361.00,766.60 L366.00,771.60 L361.00,776.60 L356.00,771.60 Z" fill="#85902a" stroke="none" stroke-width="1" />
<path d="M367.60,762.90 L372.60,767.90 L367.60,772.90 L362.60,767.90 Z" fill="#85902a" stroke="none" stroke-width="1" />
<path d="M376.40,762.20 L381.40,767.20 L376.40,772.20 L371.40,767.20 Z" fill="#85902a" stroke="none" stroke-width="1" />
<path d="M394.60,754.50 L399.60,759.50 L394.60,764.50 L389.60,759.50 Z" fill="#85902a" stroke="none" stroke-width="1" />
<rect x="322.70" y="741.20" width="114.10" height="44.60" fill="none" stroke="#111" stroke-width="1.5" />
<line x1="323.94" y1="785.80" x2="323.94" y2="782.80" stroke="#111" stroke-width="1.2" />
<line x1="323.94" y1="741.20" x2="323.94" y2="744.20" stroke="#111" stroke-width="1.2" />
<line x1="330.81" y1="785.80" x2="330.81" y2="782.80" stroke="#111" stroke-width="1.2" />
<line x1="330.81" y1="741.20" x2="330.81" y2="744.20" stroke="#111" stroke-width="1.2" />
<line x1="336.14" y1="785.80" x2="336.14" y2="782.80" stroke="#111" stroke-width="1.2" />
<line x1="336.14" y1="741.20" x2="336.14" y2="744.20" stroke="#111" stroke-width="1.2" />
<line x1="340.50" y1="785.80" x2="340.50" y2="782.80" stroke="#111" stroke-width="1.2" />
<line x1="340.50" y1="741.20" x2="340.50" y2="744.20" stroke="#111" stroke-width="1.2" />
<line x1="344.18" y1="785.80" x2="344.18" y2="782.80" stroke="#111" stroke-width="1.2" />
<line x1="344.18" y1="741.20" x2="344.18" y2="744.20" stroke="#111" stroke-width="1.2" />
<line x1="347.37" y1="785.80" x2="347.37" y2="782.80" stroke="#111" stroke-width="1.2" />
<line x1="347.37" y1="741.20" x2="347.37" y2="744.20" stroke="#111" stroke-width="1.2" />
<line x1="350.18" y1="785.80" x2="350.18" y2="782.80" stroke="#111" stroke-width="1.2" />
<line x1="350.18" y1="741.20" x2="350.18" y2="744.20" stroke="#111" stroke-width="1.2" />
<line x1="352.70" y1="785.80" x2="352.70" y2="780.80" stroke="#111" stroke-width="1.2" />
<line x1="352.70" y1="741.20" x2="352.70" y2="746.20" stroke="#111" stroke-width="1.2" />
<line x1="369.26" y1="785.80" x2="369.26" y2="782.80" stroke="#111" stroke-width="1.2" />
<line x1="369.26" y1="741.20" x2="369.26" y2="744.20" stroke="#111" stroke-width="1.2" />
<line x1="378.94" y1="785.80" x2="378.94" y2="782.80" stroke="#111" stroke-width="1.2" />
<line x1="378.94" y1="741.20" x2="378.94" y2="744.20" stroke="#111" stroke-width="1.2" />
<line x1="385.81" y1="785.80" x2="385.81" y2="782.80" stroke="#111" stroke-width="1.2" />
<line x1="385.81" y1="741.20" x2="385.81" y2="744.20" stroke="#111" stroke-width="1.2" />
<line x1="391.14" y1="785.80" x2="391.14" y2="782.80" stroke="#111" stroke-width="1.2" />
<line x1="391.14" y1="741.20" x2="391.14" y2="744.20" stroke="#111" stroke-width="1.2" />
<line x1="395.50" y1="785.80" x2="395.50" y2="782.80" stroke="#111" stroke-width="1.2" />
<line x1="395.50" y1="741.20" x2="395.50" y2="744.20" stroke="#111" stroke-width="1.2" />
<line x1="399.18" y1="785.80" x2="399.18" y2="782.80" stroke="#111" stroke-width="1.2" />
<line x1="399.18" y1="741.20" x2="399.18" y2="744.20" stroke="#111" stroke-width="1.2" />
<line x1="402.37" y1="785.80" x2="402.37" y2="782.80" stroke="#111" stroke-width="1.2" />
<line x1="402.37" y1="741.20" x2="402.37" y2="744.20" stroke="#111" stroke-width="1.2" />
<line x1="405.18" y1="785.80" x2="405.18" y2="782.80" stroke="#111" stroke-width="1.2" />
<line x1="405.18" y1="741.20" x2="405.18" y2="744.20" stroke="#111" stroke-width="1.2" />
<line x1="407.70" y1="785.80" x2="407.70" y2="780.80" stroke="#111" stroke-width="1.2" />
<line x1="407.70" y1="741.20" x2="407.70" y2="746.20" stroke="#111" stroke-width="1.2" />
<line x1="424.26" y1="785.80" x2="424.26" y2="782.80" stroke="#111" stroke-width="1.2" />
<line x1="424.26" y1="741.20" x2="424.26" y2="744.20" stroke="#111" stroke-width="1.2" />
<line x1="433.94" y1="785.80" x2="433.94" y2="782.80" stroke="#111" stroke-width="1.2" />
<line x1="433.94" y1="741.20" x2="433.94" y2="744.20" stroke="#111" stroke-width="1.2" />
<line x1="322.70" y1="784.84" x2="325.70" y2="784.84" stroke="#111" stroke-width="1.2" />
<line x1="436.80" y1="784.84" x2="433.80" y2="784.84" stroke="#111" stroke-width="1.2" />
<line x1="322.70" y1="782.42" x2="325.70" y2="782.42" stroke="#111" stroke-width="1.2" />
<line x1="436.80" y1="782.42" x2="433.80" y2="782.42" stroke="#111" stroke-width="1.2" />
<line x1="322.70" y1="780.54" x2="325.70" y2="780.54" stroke="#111" stroke-width="1.2" />
<line x1="436.80" y1="780.54" x2="433.80" y2="780.54" stroke="#111" stroke-width="1.2" />
<line x1="322.70" y1="779.00" x2="325.70" y2="779.00" stroke="#111" stroke-width="1.2" />
<line x1="436.80" y1="779.00" x2="433.80" y2="779.00" stroke="#111" stroke-width="1.2" />
<line x1="322.70" y1="777.71" x2="325.70" y2="777.71" stroke="#111" stroke-width="1.2" />
<line x1="436.80" y1="777.71" x2="433.80" y2="777.71" stroke="#111" stroke-width="1.2" />
<line x1="322.70" y1="776.58" x2="325.70" y2="776.58" stroke="#111" stroke-width="1.2" />
<line x1="436.80" y1="776.58" x2="433.80" y2="776.58" stroke="#111" stroke-width="1.2" />
<line x1="322.70" y1="775.59" x2="325.70" y2="775.59" stroke="#111" stroke-width="1.2" />
<line x1="436.80" y1="775.59" x2="433.80" y2="775.59" stroke="#111" stroke-width="1.2" />
<line x1="322.70" y1="774.70" x2="327.70" y2="774.70" stroke="#111" stroke-width="1.2" />
<line x1="436.80" y1="774.70" x2="431.80" y2="774.70" stroke="#111" stroke-width="1.2" />
<line x1="322.70" y1="768.86" x2="325.70" y2="768.86" stroke="#111" stroke-width="1.2" />
<line x1="436.80" y1="768.86" x2="433.80" y2="768.86" stroke="#111" stroke-width="1.2" />
<line x1="322.70" y1="765.44" x2="325.70" y2="765.44" stroke="#111" stroke-width="1.2" />
<line x1="436.80" y1="765.44" x2="433.80" y2="765.44" stroke="#111" stroke-width="1.2" />
<line x1="322.70" y1="763.02" x2="325.70" y2="763.02" stroke="#111" stroke-width="1.2" />
<line x1="436.80" y1="763.02" x2="433.80" y2="763.02" stroke="#111" stroke-width="1.2" />
<line x1="322.70" y1="761.14" x2="325.70" y2="761.14" stroke="#111" stroke-width="1.2" />
<line x1="436.80" y1="761.14" x2="433.80" y2="761.14" stroke="#111" stroke-width="1.2" />
<line x1="322.70" y1="759.60" x2="325.70" y2="759.60" stroke="#111" stroke-width="1.2" />
<line x1="436.80" y1="759.60" x2="433.80" y2="759.60" stroke="#111" stroke-width="1.2" />
<line x1="322.70" y1="758.31" x2="325.70" y2="758.31" stroke="#111" stroke-width="1.2" />
<line x1="436.80" y1="758.31" x2="433.80" y2="758.31" stroke="#111" stroke-width="1.2" />
<line x1="322.70" y1="757.18" x2="325.70" y2="757.18" stroke="#111" stroke-width="1.2" />
<line x1="436.80" y1="757.18" x2="433.80" y2="757.18" stroke="#111" stroke-width="1.2" />
<line x1="322.70" y1="756.19" x2="325.70" y2="756.19" stroke="#111" stroke-width="1.2" />
<line x1="436.80" y1="756.19" x2="433.80" y2="756.19" stroke="#111" stroke-width="1.2" />
<line x1="322.70" y1="755.30" x2="327.70" y2="755.30" stroke="#111" stroke-width="1.2" />
<line x1="436.80" y1="755.30" x2="431.80" y2="755.30" stroke="#111" stroke-width="1.2" />
<line x1="322.70" y1="749.46" x2="325.70" y2="749.46" stroke="#111" stroke-width="1.2" />
<line x1="436.80" y1="749.46" x2="433.80" y2="749.46" stroke="#111" stroke-width="1.2" />
<line x1="322.70" y1="746.04" x2="325.70" y2="746.04" stroke="#111" stroke-width="1.2" />
<line x1="436.80" y1="746.04" x2="433.80" y2="746.04" stroke="#111" stroke-width="1.2" />
<line x1="322.70" y1="743.62" x2="325.70" y2="743.62" stroke="#111" stroke-width="1.2" />
<line x1="436.80" y1="743.62" x2="433.80" y2="743.62" stroke="#111" stroke-width="1.2" />
<line x1="322.70" y1="741.74" x2="325.70" y2="741.74" stroke="#111" stroke-width="1.2" />
<line x1="436.80" y1="741.74" x2="433.80" y2="741.74" stroke="#111" stroke-width="1.2" />
<text x="349.70" y="803.50" font-size="14.5" fill="#111" stroke="#111" stroke-width="0.18" text-anchor="middle">10</text>
<text x="358.20" y="797.00" font-size="10" fill="#111" stroke="#111" stroke-width="0.18">2</text>
<text x="404.70" y="803.50" font-size="14.5" fill="#111" stroke="#111" stroke-width="0.18" text-anchor="middle">10</text>
<text x="413.20" y="797.00" font-size="10" fill="#111" stroke="#111" stroke-width="0.18">3</text>
<text x="379.75" y="818.80" font-size="17" fill="#111" stroke="#111" stroke-width="0.18" text-anchor="middle" textLength="54.50" lengthAdjust="spacingAndGlyphs"><tspan font-style="italic">R</tspan> (nm)</text>
<path d="M473.30,767.70 L478.30,772.70 L473.30,777.70 L468.30,772.70 Z" fill="#ff2f92" stroke="none" stroke-width="1" />
<path d="M478.80,766.60 L483.80,771.60 L478.80,776.60 L473.80,771.60 Z" fill="#ff2f92" stroke="none" stroke-width="1" />
<path d="M482.40,764.70 L487.40,769.70 L482.40,774.70 L477.40,769.70 Z" fill="#ff2f92" stroke="none" stroke-width="1" />
<path d="M487.20,763.60 L492.20,768.60 L487.20,773.60 L482.20,768.60 Z" fill="#ff2f92" stroke="none" stroke-width="1" />
<path d="M504.30,758.50 L509.30,763.50 L504.30,768.50 L499.30,763.50 Z" fill="#ff2f92" stroke="none" stroke-width="1" />
<path d="M511.60,754.90 L516.60,759.90 L511.60,764.90 L506.60,759.90 Z" fill="#ff2f92" stroke="none" stroke-width="1" />
<rect x="440.60" y="741.20" width="115.00" height="44.60" fill="none" stroke="#111" stroke-width="1.5" />
<line x1="441.84" y1="785.80" x2="441.84" y2="782.80" stroke="#111" stroke-width="1.2" />
<line x1="441.84" y1="741.20" x2="441.84" y2="744.20" stroke="#111" stroke-width="1.2" />
<line x1="448.71" y1="785.80" x2="448.71" y2="782.80" stroke="#111" stroke-width="1.2" />
<line x1="448.71" y1="741.20" x2="448.71" y2="744.20" stroke="#111" stroke-width="1.2" />
<line x1="454.04" y1="785.80" x2="454.04" y2="782.80" stroke="#111" stroke-width="1.2" />
<line x1="454.04" y1="741.20" x2="454.04" y2="744.20" stroke="#111" stroke-width="1.2" />
<line x1="458.40" y1="785.80" x2="458.40" y2="782.80" stroke="#111" stroke-width="1.2" />
<line x1="458.40" y1="741.20" x2="458.40" y2="744.20" stroke="#111" stroke-width="1.2" />
<line x1="462.08" y1="785.80" x2="462.08" y2="782.80" stroke="#111" stroke-width="1.2" />
<line x1="462.08" y1="741.20" x2="462.08" y2="744.20" stroke="#111" stroke-width="1.2" />
<line x1="465.27" y1="785.80" x2="465.27" y2="782.80" stroke="#111" stroke-width="1.2" />
<line x1="465.27" y1="741.20" x2="465.27" y2="744.20" stroke="#111" stroke-width="1.2" />
<line x1="468.08" y1="785.80" x2="468.08" y2="782.80" stroke="#111" stroke-width="1.2" />
<line x1="468.08" y1="741.20" x2="468.08" y2="744.20" stroke="#111" stroke-width="1.2" />
<line x1="470.60" y1="785.80" x2="470.60" y2="780.80" stroke="#111" stroke-width="1.2" />
<line x1="470.60" y1="741.20" x2="470.60" y2="746.20" stroke="#111" stroke-width="1.2" />
<line x1="487.16" y1="785.80" x2="487.16" y2="782.80" stroke="#111" stroke-width="1.2" />
<line x1="487.16" y1="741.20" x2="487.16" y2="744.20" stroke="#111" stroke-width="1.2" />
<line x1="496.84" y1="785.80" x2="496.84" y2="782.80" stroke="#111" stroke-width="1.2" />
<line x1="496.84" y1="741.20" x2="496.84" y2="744.20" stroke="#111" stroke-width="1.2" />
<line x1="503.71" y1="785.80" x2="503.71" y2="782.80" stroke="#111" stroke-width="1.2" />
<line x1="503.71" y1="741.20" x2="503.71" y2="744.20" stroke="#111" stroke-width="1.2" />
<line x1="509.04" y1="785.80" x2="509.04" y2="782.80" stroke="#111" stroke-width="1.2" />
<line x1="509.04" y1="741.20" x2="509.04" y2="744.20" stroke="#111" stroke-width="1.2" />
<line x1="513.40" y1="785.80" x2="513.40" y2="782.80" stroke="#111" stroke-width="1.2" />
<line x1="513.40" y1="741.20" x2="513.40" y2="744.20" stroke="#111" stroke-width="1.2" />
<line x1="517.08" y1="785.80" x2="517.08" y2="782.80" stroke="#111" stroke-width="1.2" />
<line x1="517.08" y1="741.20" x2="517.08" y2="744.20" stroke="#111" stroke-width="1.2" />
<line x1="520.27" y1="785.80" x2="520.27" y2="782.80" stroke="#111" stroke-width="1.2" />
<line x1="520.27" y1="741.20" x2="520.27" y2="744.20" stroke="#111" stroke-width="1.2" />
<line x1="523.08" y1="785.80" x2="523.08" y2="782.80" stroke="#111" stroke-width="1.2" />
<line x1="523.08" y1="741.20" x2="523.08" y2="744.20" stroke="#111" stroke-width="1.2" />
<line x1="525.60" y1="785.80" x2="525.60" y2="780.80" stroke="#111" stroke-width="1.2" />
<line x1="525.60" y1="741.20" x2="525.60" y2="746.20" stroke="#111" stroke-width="1.2" />
<line x1="542.16" y1="785.80" x2="542.16" y2="782.80" stroke="#111" stroke-width="1.2" />
<line x1="542.16" y1="741.20" x2="542.16" y2="744.20" stroke="#111" stroke-width="1.2" />
<line x1="551.84" y1="785.80" x2="551.84" y2="782.80" stroke="#111" stroke-width="1.2" />
<line x1="551.84" y1="741.20" x2="551.84" y2="744.20" stroke="#111" stroke-width="1.2" />
<line x1="440.60" y1="784.84" x2="443.60" y2="784.84" stroke="#111" stroke-width="1.2" />
<line x1="555.60" y1="784.84" x2="552.60" y2="784.84" stroke="#111" stroke-width="1.2" />
<line x1="440.60" y1="782.42" x2="443.60" y2="782.42" stroke="#111" stroke-width="1.2" />
<line x1="555.60" y1="782.42" x2="552.60" y2="782.42" stroke="#111" stroke-width="1.2" />
<line x1="440.60" y1="780.54" x2="443.60" y2="780.54" stroke="#111" stroke-width="1.2" />
<line x1="555.60" y1="780.54" x2="552.60" y2="780.54" stroke="#111" stroke-width="1.2" />
<line x1="440.60" y1="779.00" x2="443.60" y2="779.00" stroke="#111" stroke-width="1.2" />
<line x1="555.60" y1="779.00" x2="552.60" y2="779.00" stroke="#111" stroke-width="1.2" />
<line x1="440.60" y1="777.71" x2="443.60" y2="777.71" stroke="#111" stroke-width="1.2" />
<line x1="555.60" y1="777.71" x2="552.60" y2="777.71" stroke="#111" stroke-width="1.2" />
<line x1="440.60" y1="776.58" x2="443.60" y2="776.58" stroke="#111" stroke-width="1.2" />
<line x1="555.60" y1="776.58" x2="552.60" y2="776.58" stroke="#111" stroke-width="1.2" />
<line x1="440.60" y1="775.59" x2="443.60" y2="775.59" stroke="#111" stroke-width="1.2" />
<line x1="555.60" y1="775.59" x2="552.60" y2="775.59" stroke="#111" stroke-width="1.2" />
<line x1="440.60" y1="774.70" x2="445.60" y2="774.70" stroke="#111" stroke-width="1.2" />
<line x1="555.60" y1="774.70" x2="550.60" y2="774.70" stroke="#111" stroke-width="1.2" />
<line x1="440.60" y1="768.86" x2="443.60" y2="768.86" stroke="#111" stroke-width="1.2" />
<line x1="555.60" y1="768.86" x2="552.60" y2="768.86" stroke="#111" stroke-width="1.2" />
<line x1="440.60" y1="765.44" x2="443.60" y2="765.44" stroke="#111" stroke-width="1.2" />
<line x1="555.60" y1="765.44" x2="552.60" y2="765.44" stroke="#111" stroke-width="1.2" />
<line x1="440.60" y1="763.02" x2="443.60" y2="763.02" stroke="#111" stroke-width="1.2" />
<line x1="555.60" y1="763.02" x2="552.60" y2="763.02" stroke="#111" stroke-width="1.2" />
<line x1="440.60" y1="761.14" x2="443.60" y2="761.14" stroke="#111" stroke-width="1.2" />
<line x1="555.60" y1="761.14" x2="552.60" y2="761.14" stroke="#111" stroke-width="1.2" />
<line x1="440.60" y1="759.60" x2="443.60" y2="759.60" stroke="#111" stroke-width="1.2" />
<line x1="555.60" y1="759.60" x2="552.60" y2="759.60" stroke="#111" stroke-width="1.2" />
<line x1="440.60" y1="758.31" x2="443.60" y2="758.31" stroke="#111" stroke-width="1.2" />
<line x1="555.60" y1="758.31" x2="552.60" y2="758.31" stroke="#111" stroke-width="1.2" />
<line x1="440.60" y1="757.18" x2="443.60" y2="757.18" stroke="#111" stroke-width="1.2" />
<line x1="555.60" y1="757.18" x2="552.60" y2="757.18" stroke="#111" stroke-width="1.2" />
<line x1="440.60" y1="756.19" x2="443.60" y2="756.19" stroke="#111" stroke-width="1.2" />
<line x1="555.60" y1="756.19" x2="552.60" y2="756.19" stroke="#111" stroke-width="1.2" />
<line x1="440.60" y1="755.30" x2="445.60" y2="755.30" stroke="#111" stroke-width="1.2" />
<line x1="555.60" y1="755.30" x2="550.60" y2="755.30" stroke="#111" stroke-width="1.2" />
<line x1="440.60" y1="749.46" x2="443.60" y2="749.46" stroke="#111" stroke-width="1.2" />
<line x1="555.60" y1="749.46" x2="552.60" y2="749.46" stroke="#111" stroke-width="1.2" />
<line x1="440.60" y1="746.04" x2="443.60" y2="746.04" stroke="#111" stroke-width="1.2" />
<line x1="555.60" y1="746.04" x2="552.60" y2="746.04" stroke="#111" stroke-width="1.2" />
<line x1="440.60" y1="743.62" x2="443.60" y2="743.62" stroke="#111" stroke-width="1.2" />
<line x1="555.60" y1="743.62" x2="552.60" y2="743.62" stroke="#111" stroke-width="1.2" />
<line x1="440.60" y1="741.74" x2="443.60" y2="741.74" stroke="#111" stroke-width="1.2" />
<line x1="555.60" y1="741.74" x2="552.60" y2="741.74" stroke="#111" stroke-width="1.2" />
<text x="467.60" y="803.50" font-size="14.5" fill="#111" stroke="#111" stroke-width="0.18" text-anchor="middle">10</text>
<text x="476.10" y="797.00" font-size="10" fill="#111" stroke="#111" stroke-width="0.18">2</text>
<text x="522.60" y="803.50" font-size="14.5" fill="#111" stroke="#111" stroke-width="0.18" text-anchor="middle">10</text>
<text x="531.10" y="797.00" font-size="10" fill="#111" stroke="#111" stroke-width="0.18">3</text>
<text x="498.10" y="818.80" font-size="17" fill="#111" stroke="#111" stroke-width="0.18" text-anchor="middle" textLength="54.50" lengthAdjust="spacingAndGlyphs"><tspan font-style="italic">R</tspan> (nm)</text>
<path d="M633.90,751.20 L638.90,756.20 L633.90,761.20 L628.90,756.20 Z" fill="#2e9a2e" stroke="none" stroke-width="1" />
<path d="M646.70,746.50 L651.70,751.50 L646.70,756.50 L641.70,751.50 Z" fill="#2e9a2e" stroke="none" stroke-width="1" />
<path d="M650.30,747.60 L655.30,752.60 L650.30,757.60 L645.30,752.60 Z" fill="#2e9a2e" stroke="none" stroke-width="1" />
<rect x="558.40" y="741.20" width="115.20" height="44.60" fill="none" stroke="#111" stroke-width="1.5" />
<line x1="559.64" y1="785.80" x2="559.64" y2="782.80" stroke="#111" stroke-width="1.2" />
<line x1="559.64" y1="741.20" x2="559.64" y2="744.20" stroke="#111" stroke-width="1.2" />
<line x1="566.51" y1="785.80" x2="566.51" y2="782.80" stroke="#111" stroke-width="1.2" />
<line x1="566.51" y1="741.20" x2="566.51" y2="744.20" stroke="#111" stroke-width="1.2" />
<line x1="571.84" y1="785.80" x2="571.84" y2="782.80" stroke="#111" stroke-width="1.2" />
<line x1="571.84" y1="741.20" x2="571.84" y2="744.20" stroke="#111" stroke-width="1.2" />
<line x1="576.20" y1="785.80" x2="576.20" y2="782.80" stroke="#111" stroke-width="1.2" />
<line x1="576.20" y1="741.20" x2="576.20" y2="744.20" stroke="#111" stroke-width="1.2" />
<line x1="579.88" y1="785.80" x2="579.88" y2="782.80" stroke="#111" stroke-width="1.2" />
<line x1="579.88" y1="741.20" x2="579.88" y2="744.20" stroke="#111" stroke-width="1.2" />
<line x1="583.07" y1="785.80" x2="583.07" y2="782.80" stroke="#111" stroke-width="1.2" />
<line x1="583.07" y1="741.20" x2="583.07" y2="744.20" stroke="#111" stroke-width="1.2" />
<line x1="585.88" y1="785.80" x2="585.88" y2="782.80" stroke="#111" stroke-width="1.2" />
<line x1="585.88" y1="741.20" x2="585.88" y2="744.20" stroke="#111" stroke-width="1.2" />
<line x1="588.40" y1="785.80" x2="588.40" y2="780.80" stroke="#111" stroke-width="1.2" />
<line x1="588.40" y1="741.20" x2="588.40" y2="746.20" stroke="#111" stroke-width="1.2" />
<line x1="604.96" y1="785.80" x2="604.96" y2="782.80" stroke="#111" stroke-width="1.2" />
<line x1="604.96" y1="741.20" x2="604.96" y2="744.20" stroke="#111" stroke-width="1.2" />
<line x1="614.64" y1="785.80" x2="614.64" y2="782.80" stroke="#111" stroke-width="1.2" />
<line x1="614.64" y1="741.20" x2="614.64" y2="744.20" stroke="#111" stroke-width="1.2" />
<line x1="621.51" y1="785.80" x2="621.51" y2="782.80" stroke="#111" stroke-width="1.2" />
<line x1="621.51" y1="741.20" x2="621.51" y2="744.20" stroke="#111" stroke-width="1.2" />
<line x1="626.84" y1="785.80" x2="626.84" y2="782.80" stroke="#111" stroke-width="1.2" />
<line x1="626.84" y1="741.20" x2="626.84" y2="744.20" stroke="#111" stroke-width="1.2" />
<line x1="631.20" y1="785.80" x2="631.20" y2="782.80" stroke="#111" stroke-width="1.2" />
<line x1="631.20" y1="741.20" x2="631.20" y2="744.20" stroke="#111" stroke-width="1.2" />
<line x1="634.88" y1="785.80" x2="634.88" y2="782.80" stroke="#111" stroke-width="1.2" />
<line x1="634.88" y1="741.20" x2="634.88" y2="744.20" stroke="#111" stroke-width="1.2" />
<line x1="638.07" y1="785.80" x2="638.07" y2="782.80" stroke="#111" stroke-width="1.2" />
<line x1="638.07" y1="741.20" x2="638.07" y2="744.20" stroke="#111" stroke-width="1.2" />
<line x1="640.88" y1="785.80" x2="640.88" y2="782.80" stroke="#111" stroke-width="1.2" />
<line x1="640.88" y1="741.20" x2="640.88" y2="744.20" stroke="#111" stroke-width="1.2" />
<line x1="643.40" y1="785.80" x2="643.40" y2="780.80" stroke="#111" stroke-width="1.2" />
<line x1="643.40" y1="741.20" x2="643.40" y2="746.20" stroke="#111" stroke-width="1.2" />
<line x1="659.96" y1="785.80" x2="659.96" y2="782.80" stroke="#111" stroke-width="1.2" />
<line x1="659.96" y1="741.20" x2="659.96" y2="744.20" stroke="#111" stroke-width="1.2" />
<line x1="669.64" y1="785.80" x2="669.64" y2="782.80" stroke="#111" stroke-width="1.2" />
<line x1="669.64" y1="741.20" x2="669.64" y2="744.20" stroke="#111" stroke-width="1.2" />
<line x1="558.40" y1="784.84" x2="561.40" y2="784.84" stroke="#111" stroke-width="1.2" />
<line x1="673.60" y1="784.84" x2="670.60" y2="784.84" stroke="#111" stroke-width="1.2" />
<line x1="558.40" y1="782.42" x2="561.40" y2="782.42" stroke="#111" stroke-width="1.2" />
<line x1="673.60" y1="782.42" x2="670.60" y2="782.42" stroke="#111" stroke-width="1.2" />
<line x1="558.40" y1="780.54" x2="561.40" y2="780.54" stroke="#111" stroke-width="1.2" />
<line x1="673.60" y1="780.54" x2="670.60" y2="780.54" stroke="#111" stroke-width="1.2" />
<line x1="558.40" y1="779.00" x2="561.40" y2="779.00" stroke="#111" stroke-width="1.2" />
<line x1="673.60" y1="779.00" x2="670.60" y2="779.00" stroke="#111" stroke-width="1.2" />
<line x1="558.40" y1="777.71" x2="561.40" y2="777.71" stroke="#111" stroke-width="1.2" />
<line x1="673.60" y1="777.71" x2="670.60" y2="777.71" stroke="#111" stroke-width="1.2" />
<line x1="558.40" y1="776.58" x2="561.40" y2="776.58" stroke="#111" stroke-width="1.2" />
<line x1="673.60" y1="776.58" x2="670.60" y2="776.58" stroke="#111" stroke-width="1.2" />
<line x1="558.40" y1="775.59" x2="561.40" y2="775.59" stroke="#111" stroke-width="1.2" />
<line x1="673.60" y1="775.59" x2="670.60" y2="775.59" stroke="#111" stroke-width="1.2" />
<line x1="558.40" y1="774.70" x2="563.40" y2="774.70" stroke="#111" stroke-width="1.2" />
<line x1="673.60" y1="774.70" x2="668.60" y2="774.70" stroke="#111" stroke-width="1.2" />
<line x1="558.40" y1="768.86" x2="561.40" y2="768.86" stroke="#111" stroke-width="1.2" />
<line x1="673.60" y1="768.86" x2="670.60" y2="768.86" stroke="#111" stroke-width="1.2" />
<line x1="558.40" y1="765.44" x2="561.40" y2="765.44" stroke="#111" stroke-width="1.2" />
<line x1="673.60" y1="765.44" x2="670.60" y2="765.44" stroke="#111" stroke-width="1.2" />
<line x1="558.40" y1="763.02" x2="561.40" y2="763.02" stroke="#111" stroke-width="1.2" />
<line x1="673.60" y1="763.02" x2="670.60" y2="763.02" stroke="#111" stroke-width="1.2" />
<line x1="558.40" y1="761.14" x2="561.40" y2="761.14" stroke="#111" stroke-width="1.2" />
<line x1="673.60" y1="761.14" x2="670.60" y2="761.14" stroke="#111" stroke-width="1.2" />
<line x1="558.40" y1="759.60" x2="561.40" y2="759.60" stroke="#111" stroke-width="1.2" />
<line x1="673.60" y1="759.60" x2="670.60" y2="759.60" stroke="#111" stroke-width="1.2" />
<line x1="558.40" y1="758.31" x2="561.40" y2="758.31" stroke="#111" stroke-width="1.2" />
<line x1="673.60" y1="758.31" x2="670.60" y2="758.31" stroke="#111" stroke-width="1.2" />
<line x1="558.40" y1="757.18" x2="561.40" y2="757.18" stroke="#111" stroke-width="1.2" />
<line x1="673.60" y1="757.18" x2="670.60" y2="757.18" stroke="#111" stroke-width="1.2" />
<line x1="558.40" y1="756.19" x2="561.40" y2="756.19" stroke="#111" stroke-width="1.2" />
<line x1="673.60" y1="756.19" x2="670.60" y2="756.19" stroke="#111" stroke-width="1.2" />
<line x1="558.40" y1="755.30" x2="563.40" y2="755.30" stroke="#111" stroke-width="1.2" />
<line x1="673.60" y1="755.30" x2="668.60" y2="755.30" stroke="#111" stroke-width="1.2" />
<line x1="558.40" y1="749.46" x2="561.40" y2="749.46" stroke="#111" stroke-width="1.2" />
<line x1="673.60" y1="749.46" x2="670.60" y2="749.46" stroke="#111" stroke-width="1.2" />
<line x1="558.40" y1="746.04" x2="561.40" y2="746.04" stroke="#111" stroke-width="1.2" />
<line x1="673.60" y1="746.04" x2="670.60" y2="746.04" stroke="#111" stroke-width="1.2" />
<line x1="558.40" y1="743.62" x2="561.40" y2="743.62" stroke="#111" stroke-width="1.2" />
<line x1="673.60" y1="743.62" x2="670.60" y2="743.62" stroke="#111" stroke-width="1.2" />
<line x1="558.40" y1="741.74" x2="561.40" y2="741.74" stroke="#111" stroke-width="1.2" />
<line x1="673.60" y1="741.74" x2="670.60" y2="741.74" stroke="#111" stroke-width="1.2" />
<text x="585.40" y="803.50" font-size="14.5" fill="#111" stroke="#111" stroke-width="0.18" text-anchor="middle">10</text>
<text x="593.90" y="797.00" font-size="10" fill="#111" stroke="#111" stroke-width="0.18">2</text>
<text x="640.40" y="803.50" font-size="14.5" fill="#111" stroke="#111" stroke-width="0.18" text-anchor="middle">10</text>
<text x="648.90" y="797.00" font-size="10" fill="#111" stroke="#111" stroke-width="0.18">3</text>
<text x="616.00" y="818.80" font-size="17" fill="#111" stroke="#111" stroke-width="0.18" text-anchor="middle" textLength="54.50" lengthAdjust="spacingAndGlyphs"><tspan font-style="italic">R</tspan> (nm)</text>
<text x="78.40" y="760.30" font-size="14.5" fill="#111" stroke="#111" stroke-width="0.18" text-anchor="end">10</text>
<text x="79.20" y="752.80" font-size="10" fill="#111" stroke="#111" stroke-width="0.18">2</text>
<text x="78.40" y="779.70" font-size="14.5" fill="#111" stroke="#111" stroke-width="0.18" text-anchor="end">10</text>
<text x="79.20" y="772.20" font-size="10" fill="#111" stroke="#111" stroke-width="0.18">1</text>
<text transform="translate(50.60,764.70) rotate(-90)" x="0" y="0" font-size="17" fill="#111" stroke="#111" stroke-width="0.18" text-anchor="middle" textLength="57.00" lengthAdjust="spacingAndGlyphs"><tspan font-style="italic">h</tspan><tspan font-size="12" dy="3" font-style="italic">m</tspan><tspan dy="-3"> (nm)</tspan></text>
<text x="0.20" y="837.30" font-size="20.5" fill="#1a1a1a" stroke="#1a1a1a" stroke-width="0" textLength="19.60" lengthAdjust="spacingAndGlyphs">e)</text>
<rect x="91.90" y="836.90" width="272.70" height="165.00" fill="#f2fdf1" stroke="none" stroke-width="1" />
<rect x="364.60" y="836.90" width="310.90" height="165.00" fill="#f8eef6" stroke="none" stroke-width="1" />
<line x1="91.90" y1="991.30" x2="675.50" y2="991.30" stroke="#d4d8d2" stroke-width="1" />
<line x1="91.90" y1="964.70" x2="675.50" y2="964.70" stroke="#d4d8d2" stroke-width="1" />
<line x1="91.90" y1="938.10" x2="675.50" y2="938.10" stroke="#d4d8d2" stroke-width="1" />
<line x1="91.90" y1="911.50" x2="675.50" y2="911.50" stroke="#d4d8d2" stroke-width="1" />
<line x1="91.90" y1="884.90" x2="675.50" y2="884.90" stroke="#d4d8d2" stroke-width="1" />
<line x1="91.90" y1="858.30" x2="675.50" y2="858.30" stroke="#d4d8d2" stroke-width="1" />
<line x1="121.60" y1="836.90" x2="121.60" y2="1001.90" stroke="#d4d8d2" stroke-width="1" />
<line x1="159.00" y1="836.90" x2="159.00" y2="1001.90" stroke="#d4d8d2" stroke-width="1" />
<line x1="196.40" y1="836.90" x2="196.40" y2="1001.90" stroke="#d4d8d2" stroke-width="1" />
<line x1="233.80" y1="836.90" x2="233.80" y2="1001.90" stroke="#d4d8d2" stroke-width="1" />
<line x1="271.20" y1="836.90" x2="271.20" y2="1001.90" stroke="#d4d8d2" stroke-width="1" />
<line x1="308.60" y1="836.90" x2="308.60" y2="1001.90" stroke="#d4d8d2" stroke-width="1" />
<line x1="346.00" y1="836.90" x2="346.00" y2="1001.90" stroke="#d4d8d2" stroke-width="1" />
<line x1="383.40" y1="836.90" x2="383.40" y2="1001.90" stroke="#d4d8d2" stroke-width="1" />
<line x1="420.80" y1="836.90" x2="420.80" y2="1001.90" stroke="#d4d8d2" stroke-width="1" />
<line x1="458.20" y1="836.90" x2="458.20" y2="1001.90" stroke="#d4d8d2" stroke-width="1" />
<line x1="495.60" y1="836.90" x2="495.60" y2="1001.90" stroke="#d4d8d2" stroke-width="1" />
<line x1="533.00" y1="836.90" x2="533.00" y2="1001.90" stroke="#d4d8d2" stroke-width="1" />
<line x1="570.40" y1="836.90" x2="570.40" y2="1001.90" stroke="#d4d8d2" stroke-width="1" />
<line x1="607.80" y1="836.90" x2="607.80" y2="1001.90" stroke="#d4d8d2" stroke-width="1" />
<line x1="645.20" y1="836.90" x2="645.20" y2="1001.90" stroke="#d4d8d2" stroke-width="1" />
<text x="100.40" y="860.90" font-size="17" fill="#2d2da0" stroke="#2d2da0" stroke-width="0.18" textLength="122.20" lengthAdjust="spacingAndGlyphs">Homostructures</text>
<text x="536.50" y="860.80" font-size="17" fill="#e0309a" stroke="#e0309a" stroke-width="0.18" textLength="127.10" lengthAdjust="spacingAndGlyphs">Heterostructures</text>
<defs><radialGradient id="g0" cx="0.4" cy="0.38" r="0.62" fx="0.3" fy="0.25"><stop offset="0" stop-color="#ffffff"/><stop offset="0.25" stop-color="#c8d0c8"/><stop offset="0.7" stop-color="#808c80"/><stop offset="1" stop-color="#808c80"/></radialGradient><radialGradient id="g1" cx="0.4" cy="0.38" r="0.62" fx="0.3" fy="0.25"><stop offset="0" stop-color="#ffffff"/><stop offset="0.25" stop-color="#6060e0"/><stop offset="0.7" stop-color="#1010a0"/><stop offset="1" stop-color="#1010a0"/></radialGradient><radialGradient id="g2" cx="0.4" cy="0.38" r="0.62" fx="0.3" fy="0.25"><stop offset="0" stop-color="#ffffff"/><stop offset="0.25" stop-color="#a0d0ff"/><stop offset="0.7" stop-color="#3d9cff"/><stop offset="1" stop-color="#3d9cff"/></radialGradient><radialGradient id="g3" cx="0.4" cy="0.38" r="0.62" fx="0.3" fy="0.25"><stop offset="0" stop-color="#ffffff"/><stop offset="0.25" stop-color="#e070d0"/><stop offset="0.7" stop-color="#a0208c"/><stop offset="1" stop-color="#a0208c"/></radialGradient><radialGradient id="g4" cx="0.4" cy="0.38" r="0.62" fx="0.3" fy="0.25"><stop offset="0" stop-color="#ffffff"/><stop offset="0.25" stop-color="#ff8080"/><stop offset="0.7" stop-color="#e01e1e"/><stop offset="1" stop-color="#e01e1e"/></radialGradient><radialGradient id="g5" cx="0.4" cy="0.38" r="0.62" fx="0.3" fy="0.25"><stop offset="0" stop-color="#ffffff"/><stop offset="0.25" stop-color="#c89050"/><stop offset="0.7" stop-color="#7a4a10"/><stop offset="1" stop-color="#7a4a10"/></radialGradient><radialGradient id="g6" cx="0.4" cy="0.38" r="0.62" fx="0.3" fy="0.25"><stop offset="0" stop-color="#ffffff"/><stop offset="0.25" stop-color="#ffb070"/><stop offset="0.7" stop-color="#ff6a14"/><stop offset="1" stop-color="#ff6a14"/></radialGradient></defs>
<line x1="121.60" y1="954.90" x2="121.60" y2="978.10" stroke="#555" stroke-width="1.1" />
<line x1="117.60" y1="954.90" x2="125.60" y2="954.90" stroke="#555" stroke-width="1.1" />
<line x1="117.60" y1="978.10" x2="125.60" y2="978.10" stroke="#555" stroke-width="1.1" />
<circle cx="121.60" cy="966.30" r="5.80" fill="url(#g0)" stroke="none" stroke-width="1" />
<circle cx="159.00" cy="982.52" r="5.80" fill="url(#g1)" stroke="none" stroke-width="1" />
<line x1="196.40" y1="941.30" x2="196.40" y2="972.40" stroke="#555" stroke-width="1.1" />
<line x1="192.40" y1="941.30" x2="200.40" y2="941.30" stroke="#555" stroke-width="1.1" />
<line x1="192.40" y1="972.40" x2="200.40" y2="972.40" stroke="#555" stroke-width="1.1" />
<circle cx="196.40" cy="957.25" r="5.80" fill="url(#g2)" stroke="none" stroke-width="1" />
<line x1="233.80" y1="862.00" x2="233.80" y2="944.80" stroke="#555" stroke-width="1.1" />
<line x1="229.80" y1="862.00" x2="237.80" y2="862.00" stroke="#555" stroke-width="1.1" />
<line x1="229.80" y1="944.80" x2="237.80" y2="944.80" stroke="#555" stroke-width="1.1" />
<circle cx="233.80" cy="904.05" r="5.80" fill="url(#g3)" stroke="none" stroke-width="1" />
<line x1="271.20" y1="860.70" x2="271.20" y2="943.90" stroke="#555" stroke-width="1.1" />
<line x1="267.20" y1="860.70" x2="275.20" y2="860.70" stroke="#555" stroke-width="1.1" />
<line x1="267.20" y1="943.90" x2="275.20" y2="943.90" stroke="#555" stroke-width="1.1" />
<circle cx="271.20" cy="902.46" r="5.80" fill="url(#g4)" stroke="none" stroke-width="1" />
<line x1="308.60" y1="939.50" x2="308.60" y2="957.00" stroke="#555" stroke-width="1.1" />
<line x1="304.60" y1="939.50" x2="312.60" y2="939.50" stroke="#555" stroke-width="1.1" />
<line x1="304.60" y1="957.00" x2="312.60" y2="957.00" stroke="#555" stroke-width="1.1" />
<circle cx="308.60" cy="948.74" r="5.80" fill="url(#g5)" stroke="none" stroke-width="1" />
<line x1="346.00" y1="845.30" x2="346.00" y2="900.10" stroke="#555" stroke-width="1.1" />
<line x1="342.00" y1="845.30" x2="350.00" y2="845.30" stroke="#555" stroke-width="1.1" />
<line x1="342.00" y1="900.10" x2="350.00" y2="900.10" stroke="#555" stroke-width="1.1" />
<circle cx="346.00" cy="872.93" r="5.80" fill="url(#g6)" stroke="none" stroke-width="1" />
<line x1="383.40" y1="943.90" x2="383.40" y2="972.30" stroke="#666" stroke-width="1.05" />
<line x1="379.40" y1="943.90" x2="387.40" y2="943.90" stroke="#666" stroke-width="1.05" />
<line x1="379.40" y1="972.30" x2="387.40" y2="972.30" stroke="#666" stroke-width="1.05" />
<path d="M383.40,953.10 L388.40,958.10 L383.40,963.10 L378.40,958.10 Z" fill="#fff" stroke="#111" stroke-width="1.7" />
<line x1="420.80" y1="932.00" x2="420.80" y2="967.60" stroke="#666" stroke-width="1.05" />
<line x1="416.80" y1="932.00" x2="424.80" y2="932.00" stroke="#666" stroke-width="1.05" />
<line x1="416.80" y1="967.60" x2="424.80" y2="967.60" stroke="#666" stroke-width="1.05" />
<path d="M420.80,944.00 L426.70,949.90 L420.80,955.80 L414.90,949.90 Z" fill="#2e9a2e" stroke="none" stroke-width="1" />
<line x1="458.20" y1="900.20" x2="458.20" y2="954.30" stroke="#666" stroke-width="1.05" />
<line x1="454.20" y1="900.20" x2="462.20" y2="900.20" stroke="#666" stroke-width="1.05" />
<line x1="454.20" y1="954.30" x2="462.20" y2="954.30" stroke="#666" stroke-width="1.05" />
<path d="M458.20,922.10 L463.20,927.10 L458.20,932.10 L453.20,927.10 Z" fill="#fff" stroke="#111" stroke-width="1.7" />
<line x1="495.60" y1="960.50" x2="495.60" y2="977.10" stroke="#666" stroke-width="1.05" />
<line x1="491.60" y1="960.50" x2="499.60" y2="960.50" stroke="#666" stroke-width="1.05" />
<line x1="491.60" y1="977.10" x2="499.60" y2="977.10" stroke="#666" stroke-width="1.05" />
<path d="M495.60,963.20 L501.50,969.10 L495.60,975.00 L489.70,969.10 Z" fill="#85902a" stroke="none" stroke-width="1" />
<line x1="533.00" y1="911.60" x2="533.00" y2="942.90" stroke="#666" stroke-width="1.05" />
<line x1="529.00" y1="911.60" x2="537.00" y2="911.60" stroke="#666" stroke-width="1.05" />
<line x1="529.00" y1="942.90" x2="537.00" y2="942.90" stroke="#666" stroke-width="1.05" />
<path d="M533.00,921.20 L538.90,927.10 L533.00,933.00 L527.10,927.10 Z" fill="#8b1414" stroke="none" stroke-width="1" />
<line x1="570.40" y1="965.20" x2="570.40" y2="980.90" stroke="#666" stroke-width="1.05" />
<line x1="566.40" y1="965.20" x2="574.40" y2="965.20" stroke="#666" stroke-width="1.05" />
<line x1="566.40" y1="980.90" x2="574.40" y2="980.90" stroke="#666" stroke-width="1.05" />
<path d="M570.40,967.30 L575.40,972.30 L570.40,977.30 L565.40,972.30 Z" fill="#fff" stroke="#111" stroke-width="1.7" />
<line x1="607.80" y1="965.20" x2="607.80" y2="978.00" stroke="#666" stroke-width="1.05" />
<line x1="603.80" y1="965.20" x2="611.80" y2="965.20" stroke="#666" stroke-width="1.05" />
<line x1="603.80" y1="978.00" x2="611.80" y2="978.00" stroke="#666" stroke-width="1.05" />
<path d="M607.80,965.00 L613.70,970.90 L607.80,976.80 L601.90,970.90 Z" fill="#9b30ff" stroke="none" stroke-width="1" />
<line x1="645.20" y1="977.10" x2="645.20" y2="986.50" stroke="#666" stroke-width="1.05" />
<line x1="641.20" y1="977.10" x2="649.20" y2="977.10" stroke="#666" stroke-width="1.05" />
<line x1="641.20" y1="986.50" x2="649.20" y2="986.50" stroke="#666" stroke-width="1.05" />
<path d="M645.20,975.90 L651.10,981.80 L645.20,987.70 L639.30,981.80 Z" fill="#ff2f92" stroke="none" stroke-width="1" />
<rect x="91.90" y="836.90" width="583.60" height="165.00" fill="none" stroke="#222" stroke-width="1.5" />
<line x1="91.90" y1="991.30" x2="98.40" y2="991.30" stroke="#222" stroke-width="1.4" />
<line x1="675.50" y1="991.30" x2="669.00" y2="991.30" stroke="#222" stroke-width="1.4" />
<line x1="91.90" y1="964.70" x2="98.40" y2="964.70" stroke="#222" stroke-width="1.4" />
<line x1="675.50" y1="964.70" x2="669.00" y2="964.70" stroke="#222" stroke-width="1.4" />
<line x1="91.90" y1="938.10" x2="98.40" y2="938.10" stroke="#222" stroke-width="1.4" />
<line x1="675.50" y1="938.10" x2="669.00" y2="938.10" stroke="#222" stroke-width="1.4" />
<line x1="91.90" y1="911.50" x2="98.40" y2="911.50" stroke="#222" stroke-width="1.4" />
<line x1="675.50" y1="911.50" x2="669.00" y2="911.50" stroke="#222" stroke-width="1.4" />
<line x1="91.90" y1="884.90" x2="98.40" y2="884.90" stroke="#222" stroke-width="1.4" />
<line x1="675.50" y1="884.90" x2="669.00" y2="884.90" stroke="#222" stroke-width="1.4" />
<line x1="91.90" y1="858.30" x2="98.40" y2="858.30" stroke="#222" stroke-width="1.4" />
<line x1="675.50" y1="858.30" x2="669.00" y2="858.30" stroke="#222" stroke-width="1.4" />
<text x="85.40" y="996.60" font-size="15" fill="#111" stroke="#111" stroke-width="0.18" text-anchor="end">0</text>
<text x="85.40" y="943.40" font-size="15" fill="#111" stroke="#111" stroke-width="0.18" text-anchor="end">10</text>
<text x="85.40" y="890.20" font-size="15" fill="#111" stroke="#111" stroke-width="0.18" text-anchor="end">20</text>
<line x1="121.60" y1="1001.90" x2="121.60" y2="994.40" stroke="#222" stroke-width="1.4" />
<line x1="121.60" y1="836.90" x2="121.60" y2="844.40" stroke="#222" stroke-width="1.4" />
<line x1="159.00" y1="1001.90" x2="159.00" y2="994.40" stroke="#222" stroke-width="1.4" />
<line x1="159.00" y1="836.90" x2="159.00" y2="844.40" stroke="#222" stroke-width="1.4" />
<line x1="196.40" y1="1001.90" x2="196.40" y2="994.40" stroke="#222" stroke-width="1.4" />
<line x1="196.40" y1="836.90" x2="196.40" y2="844.40" stroke="#222" stroke-width="1.4" />
<line x1="233.80" y1="1001.90" x2="233.80" y2="994.40" stroke="#222" stroke-width="1.4" />
<line x1="233.80" y1="836.90" x2="233.80" y2="844.40" stroke="#222" stroke-width="1.4" />
<line x1="271.20" y1="1001.90" x2="271.20" y2="994.40" stroke="#222" stroke-width="1.4" />
<line x1="271.20" y1="836.90" x2="271.20" y2="844.40" stroke="#222" stroke-width="1.4" />
<line x1="308.60" y1="1001.90" x2="308.60" y2="994.40" stroke="#222" stroke-width="1.4" />
<line x1="308.60" y1="836.90" x2="308.60" y2="844.40" stroke="#222" stroke-width="1.4" />
<line x1="346.00" y1="1001.90" x2="346.00" y2="994.40" stroke="#222" stroke-width="1.4" />
<line x1="346.00" y1="836.90" x2="346.00" y2="844.40" stroke="#222" stroke-width="1.4" />
<line x1="383.40" y1="1001.90" x2="383.40" y2="994.40" stroke="#222" stroke-width="1.4" />
<line x1="383.40" y1="836.90" x2="383.40" y2="844.40" stroke="#222" stroke-width="1.4" />
<line x1="420.80" y1="1001.90" x2="420.80" y2="994.40" stroke="#222" stroke-width="1.4" />
<line x1="420.80" y1="836.90" x2="420.80" y2="844.40" stroke="#222" stroke-width="1.4" />
<line x1="458.20" y1="1001.90" x2="458.20" y2="994.40" stroke="#222" stroke-width="1.4" />
<line x1="458.20" y1="836.90" x2="458.20" y2="844.40" stroke="#222" stroke-width="1.4" />
<line x1="495.60" y1="1001.90" x2="495.60" y2="994.40" stroke="#222" stroke-width="1.4" />
<line x1="495.60" y1="836.90" x2="495.60" y2="844.40" stroke="#222" stroke-width="1.4" />
<line x1="533.00" y1="1001.90" x2="533.00" y2="994.40" stroke="#222" stroke-width="1.4" />
<line x1="533.00" y1="836.90" x2="533.00" y2="844.40" stroke="#222" stroke-width="1.4" />
<line x1="570.40" y1="1001.90" x2="570.40" y2="994.40" stroke="#222" stroke-width="1.4" />
<line x1="570.40" y1="836.90" x2="570.40" y2="844.40" stroke="#222" stroke-width="1.4" />
<line x1="607.80" y1="1001.90" x2="607.80" y2="994.40" stroke="#222" stroke-width="1.4" />
<line x1="607.80" y1="836.90" x2="607.80" y2="844.40" stroke="#222" stroke-width="1.4" />
<line x1="645.20" y1="1001.90" x2="645.20" y2="994.40" stroke="#222" stroke-width="1.4" />
<line x1="645.20" y1="836.90" x2="645.20" y2="844.40" stroke="#222" stroke-width="1.4" />
<text transform="translate(54.50,921.00) rotate(-90)" x="0" y="0" font-size="16.5" fill="#111" stroke="#111" stroke-width="0.18" text-anchor="middle" textLength="84.00" lengthAdjust="spacingAndGlyphs"><tspan font-size="13">&#947;</tspan> (meV/&#197;<tspan font-size="11" dy="-7">2</tspan><tspan dy="7">)</tspan></text>
<text transform="translate(122.10,1047.30) rotate(-60)" font-size="18" fill="#8c8c8c" stroke="#8c8c8c" stroke-width="0.18" text-anchor="middle" dominant-baseline="central">hBN</text>
<text transform="translate(161.50,1045.60) rotate(-57)" font-size="19" fill="#1a1ab4" stroke="#1a1ab4" stroke-width="0.18" text-anchor="middle" dominant-baseline="central">WTe<tspan font-size="12" dx="2.4" dy="5.5">2</tspan></text>
<text transform="translate(196.30,1046.50) rotate(-57)" font-size="19" fill="#3d9cff" stroke="#3d9cff" stroke-width="0.18" text-anchor="middle" dominant-baseline="central">WSe<tspan font-size="12" dx="2.4" dy="5.5">2</tspan></text>
<text transform="translate(234.40,1045.80) rotate(-57)" font-size="19" fill="#a0208c" stroke="#a0208c" stroke-width="0.18" text-anchor="middle" dominant-baseline="central">MoS<tspan font-size="12" dx="2.4" dy="5.5">2</tspan></text>
<text transform="translate(272.70,1044.70) rotate(-57)" font-size="19" fill="#e02020" stroke="#e02020" stroke-width="0.18" text-anchor="middle" dominant-baseline="central">WS<tspan font-size="12" dx="2.4" dy="5.5">2</tspan></text>
<text transform="translate(310.00,1046.30) rotate(-57)" font-size="19" fill="#8b4a10" stroke="#8b4a10" stroke-width="0.18" text-anchor="middle" dominant-baseline="central">MoTe<tspan font-size="12" dx="2.4" dy="5.5">2</tspan></text>
<text transform="translate(345.50,1046.80) rotate(-57)" font-size="19" fill="#ff6a1a" stroke="#ff6a1a" stroke-width="0.18" text-anchor="middle" dominant-baseline="central">MoSe<tspan font-size="12" dx="2.4" dy="5.5">2</tspan></text>
<text transform="translate(383.40,1052.50) rotate(-63)" font-size="17.7" fill="#111" stroke="#111" stroke-width="0.18" text-anchor="middle" dominant-baseline="central">Graph./hBN</text>
<text transform="translate(424.40,1052.90) rotate(-63)" font-size="17.7" fill="#2a9a2a" stroke="#2a9a2a" stroke-width="0.18" text-anchor="middle" dominant-baseline="central">hBN/MoTe<tspan font-size="12" dx="2.4" dy="5.5">2</tspan></text>
<text transform="translate(456.80,1051.50) rotate(-63)" font-size="17.7" fill="#111" stroke="#111" stroke-width="0.18" text-anchor="middle" dominant-baseline="central">MoS<tspan font-size="12" dx="2.4" dy="5.5">2</tspan><tspan dy="-5.5">/Graph.</tspan></text>
<text transform="translate(493.00,1051.30) rotate(-63)" font-size="17.7" fill="#8a8a20" stroke="#8a8a20" stroke-width="0.18" text-anchor="middle" dominant-baseline="central">MoS<tspan font-size="12" dx="2.4" dy="5.5">2</tspan><tspan dy="-5.5">/hBN</tspan></text>
<text transform="translate(534.60,1053.20) rotate(-63)" font-size="17.7" fill="#8c1a1a" stroke="#8c1a1a" stroke-width="0.18" text-anchor="middle" dominant-baseline="central">MoS<tspan font-size="12" dx="2.4" dy="5.5">2</tspan><tspan dy="-5.5">/WS</tspan><tspan font-size="12" dx="2.4" dy="5.5">2</tspan></text>
<text transform="translate(570.50,1051.70) rotate(-63)" font-size="17.7" fill="#111" stroke="#111" stroke-width="0.18" text-anchor="middle" dominant-baseline="central">MoS<tspan font-size="12" dx="2.4" dy="5.5">2</tspan><tspan dy="-5.5">/PtSe</tspan><tspan font-size="12" dx="2.4" dy="5.5">2</tspan></text>
<text transform="translate(610.20,1051.70) rotate(-63)" font-size="17.7" fill="#9b30ff" stroke="#9b30ff" stroke-width="0.18" text-anchor="middle" dominant-baseline="central">WSe<tspan font-size="12" dx="2.4" dy="5.5">2</tspan><tspan dy="-5.5">/WS</tspan><tspan font-size="12" dx="2.4" dy="5.5">2</tspan></text>
<text transform="translate(645.80,1052.30) rotate(-63)" font-size="17.7" fill="#ff2f92" stroke="#ff2f92" stroke-width="0.18" text-anchor="middle" dominant-baseline="central">WSe<tspan font-size="12" dx="2.4" dy="5.5">2</tspan><tspan dy="-5.5">/hBN</tspan></text>
</svg></body></html>
